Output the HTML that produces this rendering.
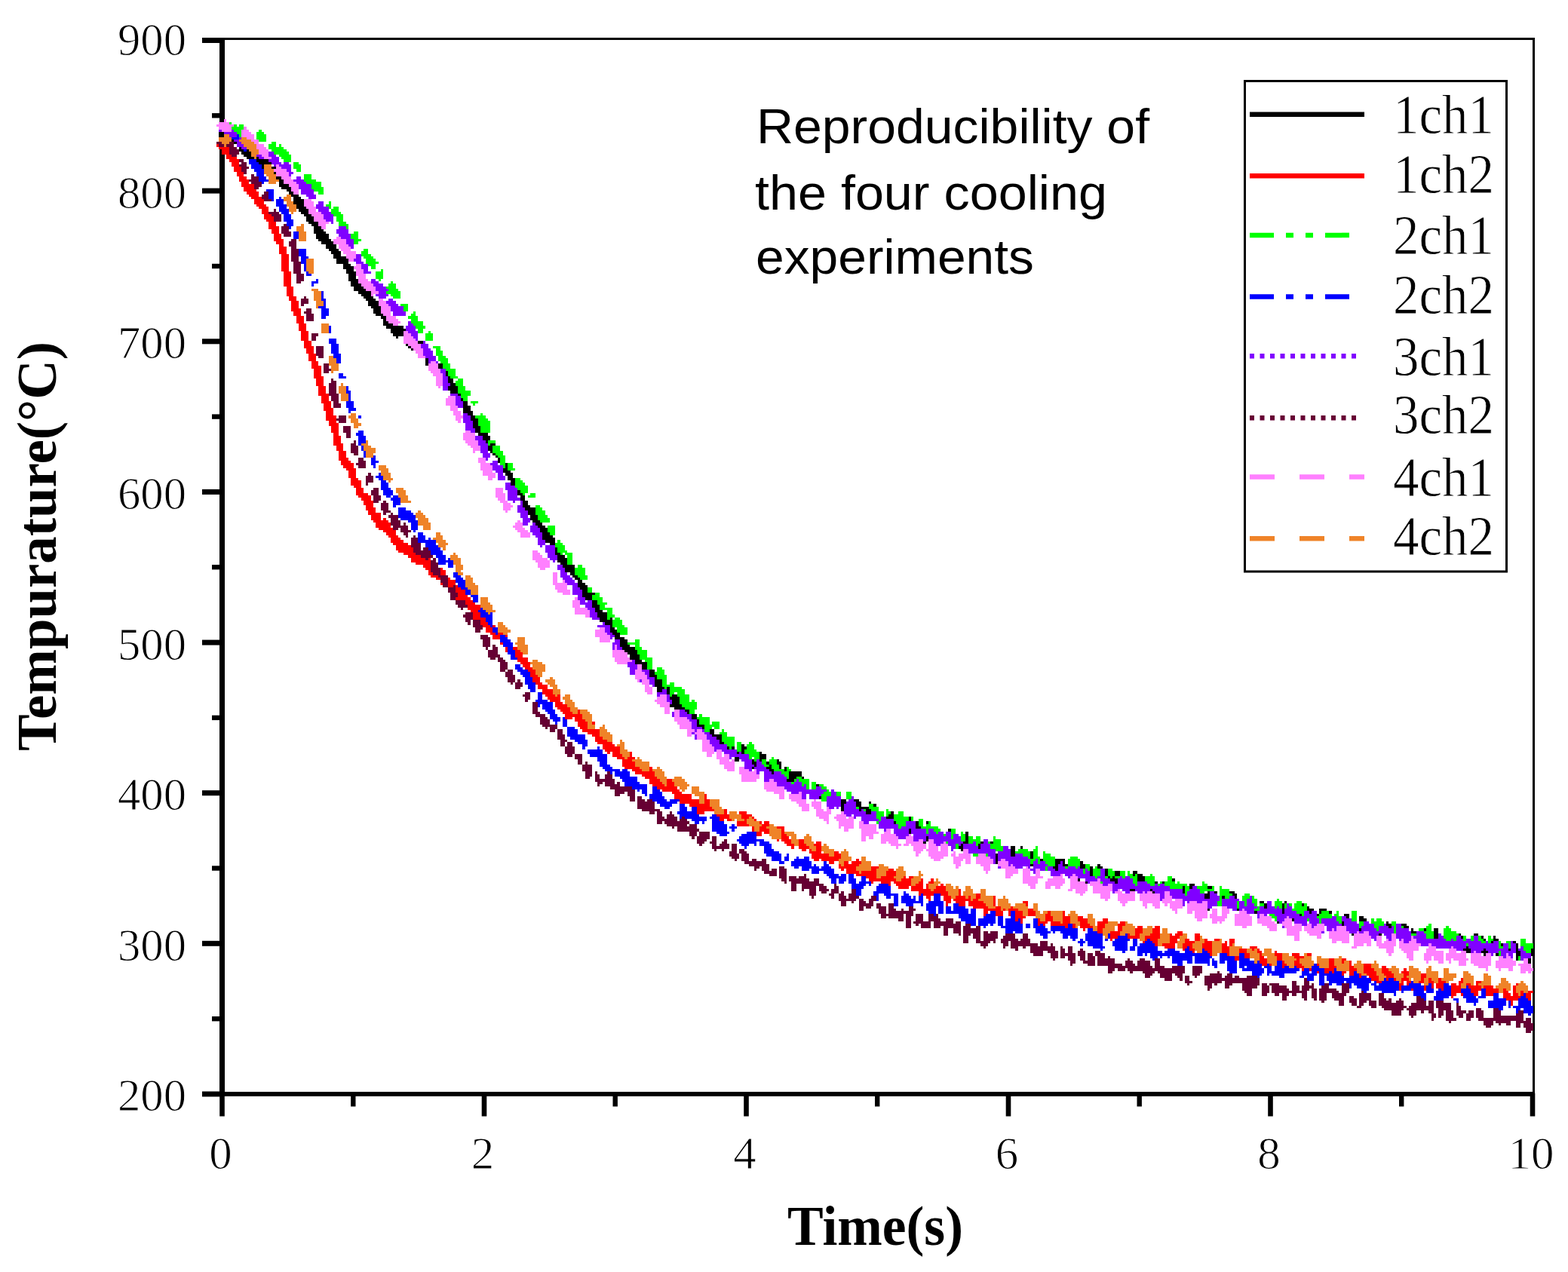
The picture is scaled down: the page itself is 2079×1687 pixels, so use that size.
<!DOCTYPE html>
<html><head><meta charset="utf-8"><title>Reproducibility of the four cooling experiments</title>
<style>html,body{margin:0;padding:0;background:#fff;}svg{display:block;}</style>
</head><body>
<svg width="2079" height="1687" viewBox="0 0 2079 1687">
<rect width="2079" height="1687" fill="#fff"/>
<g fill="#000">
<rect x="291" y="50" width="1744" height="3"/>
<rect x="2032" y="50" width="3" height="1404"/>
<rect x="291" y="50" width="7" height="1404"/>
<rect x="291" y="1448" width="1744" height="6"/>
<rect x="268" y="1447.5" width="24" height="7"/>
<rect x="281" y="1348.0" width="11" height="6.4"/>
<rect x="268" y="1247.8" width="24" height="7"/>
<rect x="281" y="1148.3" width="11" height="6.4"/>
<rect x="268" y="1048.2" width="24" height="7"/>
<rect x="281" y="948.7" width="11" height="6.4"/>
<rect x="268" y="848.6" width="24" height="7"/>
<rect x="281" y="749.0" width="11" height="6.4"/>
<rect x="268" y="648.9" width="24" height="7"/>
<rect x="281" y="549.4" width="11" height="6.4"/>
<rect x="268" y="449.3" width="24" height="7"/>
<rect x="281" y="349.8" width="11" height="6.4"/>
<rect x="268" y="249.6" width="24" height="7"/>
<rect x="281" y="150.1" width="11" height="6.4"/>
<rect x="268" y="50.0" width="24" height="7"/>
<rect x="291.2" y="1450" width="6.6" height="30.5"/>
<rect x="465.1" y="1450" width="6.4" height="17.5"/>
<rect x="638.7" y="1450" width="6.6" height="30.5"/>
<rect x="812.5" y="1450" width="6.4" height="17.5"/>
<rect x="986.2" y="1450" width="6.6" height="30.5"/>
<rect x="1160.0" y="1450" width="6.4" height="17.5"/>
<rect x="1333.7" y="1450" width="6.6" height="30.5"/>
<rect x="1507.5" y="1450" width="6.4" height="17.5"/>
<rect x="1681.2" y="1450" width="6.6" height="30.5"/>
<rect x="1855.0" y="1450" width="6.4" height="17.5"/>
<rect x="2028.7" y="1450" width="6.6" height="30.5"/>
</g>
<g transform="scale(3.300000 3.301370)" shape-rendering="crispEdges">
<path fill="#000000" d="M88 53h2v1h-2zM88 54h2v1h-2zM93 56h1v1h-1zM94 57h1v1h-1zM96 59h1v1h-1zM96 60h2v1h-2zM99 60h1v1h-1zM97 61h4v1h-4zM98 62h3v1h-3zM99 63h3v1h-3zM103 63h1v1h-1zM103 64h5v1h-5zM104 65h5v1h-5zM105 66h1v1h-1zM105 67h1v1h-1zM109 67h2v1h-2zM110 69h1v1h-1zM111 71h2v1h-2zM112 72h2v1h-2zM112 73h2v1h-2zM112 74h4v1h-4zM113 75h4v1h-4zM115 76h2v1h-2zM116 77h2v1h-2zM117 78h3v1h-3zM118 79h3v1h-3zM118 80h4v1h-4zM118 81h4v1h-4zM119 82h3v1h-3zM119 83h4v1h-4zM120 84h4v1h-4zM121 85h3v1h-3zM122 86h3v1h-3zM123 87h3v1h-3zM123 88h3v1h-3zM124 89h4v1h-4zM125 90h3v1h-3zM126 91h3v1h-3zM126 92h4v1h-4zM126 93h5v1h-5zM127 94h5v1h-5zM127 95h5v1h-5zM128 96h5v1h-5zM129 97h5v1h-5zM131 98h4v1h-4zM131 99h4v1h-4zM132 100h4v1h-4zM133 101h4v1h-4zM134 102h3v1h-3zM134 103h5v1h-5zM135 104h5v1h-5zM135 105h5v1h-5zM138 106h3v1h-3zM138 107h4v1h-4zM139 108h3v1h-3zM139 109h4v1h-4zM140 110h3v1h-3zM140 111h3v1h-3zM140 112h4v1h-4zM141 113h3v1h-3zM141 114h4v1h-4zM142 115h4v1h-4zM142 116h5v1h-5zM144 117h5v1h-5zM145 118h4v1h-4zM146 119h4v1h-4zM147 120h4v1h-4zM148 121h4v1h-4zM148 122h4v1h-4zM149 123h4v1h-4zM150 124h3v1h-3zM150 125h3v1h-3zM151 126h3v1h-3zM153 127h2v1h-2zM154 128h1v1h-1zM154 129h2v1h-2zM154 130h4v1h-4zM155 131h7v1h-7zM157 132h6v1h-6zM157 133h5v1h-5zM158 134h4v1h-4zM159 135h1v1h-1zM168 137h2v1h-2zM163 138h1v1h-1zM164 139h1v1h-1zM165 140h1v1h-1zM171 144h1v1h-1zM171 145h1v1h-1zM171 146h1v1h-1zM176 146h2v1h-2zM176 147h2v1h-2zM179 149h1v1h-1zM179 150h1v1h-1zM180 151h1v1h-1zM180 152h2v1h-2zM180 153h2v1h-2zM181 154h2v1h-2zM180 155h4v1h-4zM180 156h4v1h-4zM181 157h3v1h-3zM184 158h1v1h-1zM185 160h1v1h-1zM186 161h2v1h-2zM186 162h2v1h-2zM186 163h3v1h-3zM186 164h3v1h-3zM186 165h4v1h-4zM188 166h2v1h-2zM189 167h2v1h-2zM189 168h3v1h-3zM190 169h2v1h-2zM190 170h2v1h-2zM190 171h3v1h-3zM191 172h2v1h-2zM191 173h2v1h-2zM192 174h4v1h-4zM194 175h3v1h-3zM194 176h3v1h-3zM195 177h1v1h-1zM197 178h2v1h-2zM196 179h2v1h-2zM196 180h2v1h-2zM197 181h1v1h-1zM198 182h1v1h-1zM199 183h1v1h-1zM200 184h1v1h-1zM200 185h1v1h-1zM203 186h1v1h-1zM203 187h1v1h-1zM202 188h2v1h-2zM202 189h3v1h-3zM203 190h3v1h-3zM204 191h2v1h-2zM204 192h3v1h-3zM205 193h2v1h-2zM205 194h2v1h-2zM208 197h1v1h-1zM208 198h2v1h-2zM209 199h2v1h-2zM209 200h2v1h-2zM210 201h2v1h-2zM210 202h2v1h-2zM210 203h3v1h-3zM211 204h4v1h-4zM212 205h3v1h-3zM212 206h3v1h-3zM213 207h3v1h-3zM213 208h3v1h-3zM214 209h3v1h-3zM215 210h3v1h-3zM216 211h3v1h-3zM217 212h3v1h-3zM217 213h3v1h-3zM218 214h3v1h-3zM218 215h4v1h-4zM218 216h5v1h-5zM219 217h4v1h-4zM221 218h2v1h-2zM223 220h1v1h-1zM223 221h1v1h-1zM223 222h2v1h-2zM224 223h3v1h-3zM224 224h4v1h-4zM224 225h4v1h-4zM225 226h3v1h-3zM226 227h5v1h-5zM227 228h4v1h-4zM227 229h4v1h-4zM229 230h2v1h-2zM230 231h2v1h-2zM231 232h2v1h-2zM232 233h2v1h-2zM232 234h3v1h-3zM232 235h4v1h-4zM233 236h3v1h-3zM234 237h2v1h-2zM234 238h5v1h-5zM234 239h4v1h-4zM235 240h3v1h-3zM238 241h2v1h-2zM238 242h2v1h-2zM238 243h3v1h-3zM239 244h2v1h-2zM239 245h3v1h-3zM240 246h4v1h-4zM240 247h4v1h-4zM241 248h3v1h-3zM245 248h1v1h-1zM241 249h5v1h-5zM243 250h3v1h-3zM245 251h1v1h-1zM245 252h2v1h-2zM245 253h3v1h-3zM246 254h3v1h-3zM247 255h2v1h-2zM247 256h4v1h-4zM249 257h3v1h-3zM249 258h3v1h-3zM249 259h4v1h-4zM250 260h5v1h-5zM251 261h5v1h-5zM252 262h4v1h-4zM253 263h4v1h-4zM253 264h4v1h-4zM255 265h3v1h-3zM255 266h5v1h-5zM258 267h2v1h-2zM258 268h2v1h-2zM261 269h2v1h-2zM261 270h2v1h-2zM261 271h3v1h-3zM263 272h1v1h-1zM263 273h3v1h-3zM263 274h3v1h-3zM263 275h3v1h-3zM264 276h3v1h-3zM268 276h1v1h-1zM264 277h2v1h-2zM268 277h1v1h-1zM268 278h1v1h-1zM270 279h2v1h-2zM269 280h4v1h-4zM270 281h3v1h-3zM270 282h3v1h-3zM269 283h5v1h-5zM271 284h4v1h-4zM275 285h2v1h-2zM276 286h1v1h-1zM278 287h2v1h-2zM278 288h2v1h-2zM280 289h1v1h-1zM280 290h1v1h-1zM280 291h3v1h-3zM282 292h1v1h-1zM285 293h2v1h-2zM285 294h2v1h-2zM286 295h4v1h-4zM288 296h2v1h-2zM289 297h1v1h-1zM289 298h2v1h-2zM298 299h1v1h-1zM292 300h1v1h-1zM294 300h1v1h-1zM298 300h2v1h-2zM298 301h1v1h-1zM296 302h1v1h-1zM298 302h1v1h-1zM305 302h1v1h-1zM305 303h3v1h-3zM295 304h2v1h-2zM305 304h3v1h-3zM295 305h2v1h-2zM302 305h1v1h-1zM305 305h1v1h-1zM312 305h1v1h-1zM302 306h2v1h-2zM308 306h1v1h-1zM312 306h2v1h-2zM303 307h1v1h-1zM309 307h1v1h-1zM313 307h1v1h-1zM302 308h1v1h-1zM308 308h2v1h-2zM313 308h1v1h-1zM315 308h1v1h-1zM309 309h2v1h-2zM315 309h1v1h-1zM310 310h1v1h-1zM317 310h5v1h-5zM317 311h5v1h-5zM317 312h3v1h-3zM322 312h1v1h-1zM316 313h3v1h-3zM328 315h1v1h-1zM329 320h1v1h-1zM338 321h2v1h-2zM343 321h2v1h-2zM338 322h2v1h-2zM344 322h2v1h-2zM349 322h1v1h-1zM338 323h1v1h-1zM344 323h2v1h-2zM351 323h1v1h-1zM338 324h1v1h-1zM345 324h4v1h-4zM338 325h1v1h-1zM345 325h1v1h-1zM348 325h2v1h-2zM348 326h2v1h-2zM358 326h1v1h-1zM357 327h2v1h-2zM356 328h3v1h-3zM365 328h1v1h-1zM365 329h1v1h-1zM359 330h1v1h-1zM368 330h1v1h-1zM372 330h1v1h-1zM368 331h1v1h-1zM368 332h2v1h-2zM365 333h1v1h-1zM381 333h1v1h-1zM365 334h1v1h-1zM388 334h1v1h-1zM388 335h1v1h-1zM372 336h1v1h-1zM388 336h1v1h-1zM372 337h1v1h-1zM388 337h1v1h-1zM371 338h1v1h-1zM387 338h2v1h-2zM394 338h1v1h-1zM398 338h1v1h-1zM386 339h1v1h-1zM393 339h1v1h-1zM385 340h2v1h-2zM393 340h1v1h-1zM406 340h2v1h-2zM410 340h1v1h-1zM386 341h1v1h-1zM406 341h2v1h-2zM406 342h2v1h-2zM414 342h1v1h-1zM400 343h1v1h-1zM406 343h2v1h-2zM414 343h1v1h-1zM400 344h1v1h-1zM414 344h1v1h-1zM400 345h1v1h-1zM418 345h1v1h-1zM424 345h4v1h-4zM400 346h1v1h-1zM424 346h2v1h-2zM427 346h1v1h-1zM434 346h1v1h-1zM414 347h1v1h-1zM424 347h1v1h-1zM427 347h2v1h-2zM434 347h2v1h-2zM441 347h1v1h-1zM423 348h2v1h-2zM434 348h2v1h-2zM438 348h1v1h-1zM441 348h2v1h-2zM424 349h1v1h-1zM438 349h1v1h-1zM444 349h1v1h-1zM438 350h1v1h-1zM444 350h1v1h-1zM448 350h2v1h-2zM455 350h2v1h-2zM438 351h1v1h-1zM444 351h1v1h-1zM448 351h2v1h-2zM455 351h1v1h-1zM457 351h2v1h-2zM445 352h1v1h-1zM447 352h1v1h-1zM457 352h3v1h-3zM433 353h1v1h-1zM446 353h3v1h-3zM457 353h3v1h-3zM471 353h1v1h-1zM436 354h1v1h-1zM448 354h1v1h-1zM464 354h1v1h-1zM467 354h1v1h-1zM478 355h2v1h-2zM475 356h1v1h-1zM478 356h1v1h-1zM485 356h2v1h-2zM454 357h2v1h-2zM462 357h1v1h-1zM475 357h1v1h-1zM463 358h1v1h-1zM475 358h1v1h-1zM485 358h1v1h-1zM488 358h1v1h-1zM494 358h2v1h-2zM484 359h2v1h-2zM495 359h2v1h-2zM484 360h2v1h-2zM491 360h1v1h-1zM496 360h1v1h-1zM506 362h2v1h-2zM516 362h1v1h-1zM508 363h1v1h-1zM515 363h1v1h-1zM523 363h1v1h-1zM508 364h1v1h-1zM515 364h1v1h-1zM525 364h1v1h-1zM485 365h1v1h-1zM497 365h1v1h-1zM515 365h1v1h-1zM525 365h3v1h-3zM530 365h3v1h-3zM504 366h1v1h-1zM515 366h1v1h-1zM526 366h1v1h-1zM530 366h1v1h-1zM534 366h1v1h-1zM522 367h1v1h-1zM529 367h1v1h-1zM540 367h2v1h-2zM541 368h1v1h-1zM546 368h2v1h-2zM519 369h1v1h-1zM546 369h3v1h-3zM513 370h1v1h-1zM539 370h1v1h-1zM557 370h1v1h-1zM539 371h1v1h-1zM557 371h2v1h-2zM563 371h2v1h-2zM558 372h1v1h-1zM564 372h2v1h-2zM546 373h1v1h-1zM567 373h1v1h-1zM572 373h1v1h-1zM576 373h2v1h-2zM567 374h2v1h-2zM576 374h2v1h-2zM543 375h1v1h-1zM554 375h1v1h-1zM576 375h2v1h-2zM586 375h1v1h-1zM592 375h2v1h-2zM576 376h2v1h-2zM587 376h1v1h-1zM595 376h1v1h-1zM600 376h1v1h-1zM596 377h1v1h-1zM600 377h2v1h-2zM599 378h1v1h-1zM608 378h1v1h-1zM603 379h1v1h-1zM609 379h1v1h-1zM589 380h1v1h-1zM609 380h1v1h-1zM588 381h3v1h-3zM596 381h1v1h-1zM606 381h1v1h-1zM609 381h1v1h-1zM615 381h1v1h-1zM589 382h2v1h-2zM595 382h3v1h-3zM609 382h2v1h-2zM615 382h1v1h-1zM596 383h1v1h-1zM601 383h1v1h-1zM609 383h2v1h-2zM615 383h1v1h-1zM609 384h1v1h-1zM609 385h1v1h-1zM614 385h1v1h-1zM614 386h1v1h-1z"/>
<path fill="#ff0000" d="M87 58h1v1h-1zM88 59h4v1h-4zM89 60h3v1h-3zM89 61h3v1h-3zM91 62h2v1h-2zM91 63h4v1h-4zM92 64h4v1h-4zM93 65h3v1h-3zM93 66h3v1h-3zM94 67h3v1h-3zM94 68h3v1h-3zM95 69h3v1h-3zM95 70h3v1h-3zM96 71h3v1h-3zM96 72h4v1h-4zM97 73h3v1h-3zM97 74h5v1h-5zM98 75h4v1h-4zM98 76h5v1h-5zM99 77h5v1h-5zM100 78h4v1h-4zM101 79h4v1h-4zM102 80h4v1h-4zM102 81h4v1h-4zM103 82h4v1h-4zM104 83h4v1h-4zM105 84h3v1h-3zM105 85h3v1h-3zM106 86h3v1h-3zM106 87h4v1h-4zM107 88h3v1h-3zM108 89h3v1h-3zM108 90h3v1h-3zM108 91h4v1h-4zM109 92h3v1h-3zM109 93h3v1h-3zM110 94h3v1h-3zM110 95h3v1h-3zM110 96h4v1h-4zM111 97h3v1h-3zM112 98h2v1h-2zM112 99h3v1h-3zM112 100h3v1h-3zM112 101h3v1h-3zM113 102h3v1h-3zM113 103h3v1h-3zM113 104h3v1h-3zM113 105h3v1h-3zM113 106h3v1h-3zM113 107h3v1h-3zM113 108h3v1h-3zM114 109h3v1h-3zM114 110h3v1h-3zM114 111h3v1h-3zM114 112h3v1h-3zM114 113h3v1h-3zM114 114h3v1h-3zM115 115h3v1h-3zM115 116h3v1h-3zM115 117h3v1h-3zM115 118h3v1h-3zM116 119h3v1h-3zM116 120h3v1h-3zM117 121h3v1h-3zM117 122h3v1h-3zM117 123h3v1h-3zM117 124h4v1h-4zM118 125h3v1h-3zM118 126h3v1h-3zM119 127h3v1h-3zM119 128h3v1h-3zM119 129h3v1h-3zM120 130h3v1h-3zM120 131h3v1h-3zM120 132h3v1h-3zM121 133h3v1h-3zM121 134h3v1h-3zM121 135h3v1h-3zM121 136h3v1h-3zM122 137h3v1h-3zM122 138h3v1h-3zM122 139h4v1h-4zM123 140h3v1h-3zM123 141h3v1h-3zM124 142h3v1h-3zM124 143h3v1h-3zM124 144h3v1h-3zM125 145h3v1h-3zM125 146h3v1h-3zM125 147h4v1h-4zM126 148h3v1h-3zM126 149h3v1h-3zM126 150h3v1h-3zM126 151h4v1h-4zM127 152h3v1h-3zM127 153h3v1h-3zM127 154h3v1h-3zM128 155h3v1h-3zM128 156h3v1h-3zM128 157h3v1h-3zM128 158h4v1h-4zM129 159h3v1h-3zM129 160h3v1h-3zM129 161h4v1h-4zM130 162h3v1h-3zM130 163h3v1h-3zM130 164h4v1h-4zM131 165h3v1h-3zM131 166h3v1h-3zM131 167h4v1h-4zM131 168h4v1h-4zM132 169h3v1h-3zM132 170h4v1h-4zM133 171h3v1h-3zM133 172h3v1h-3zM133 173h3v1h-3zM134 174h2v1h-2zM134 175h3v1h-3zM134 176h3v1h-3zM134 177h3v1h-3zM134 178h4v1h-4zM135 179h3v1h-3zM135 180h3v1h-3zM136 181h3v1h-3zM136 182h3v1h-3zM136 183h3v1h-3zM136 184h4v1h-4zM137 185h4v1h-4zM137 186h5v1h-5zM138 187h4v1h-4zM139 188h4v1h-4zM140 189h3v1h-3zM140 190h3v1h-3zM140 191h3v1h-3zM141 192h3v1h-3zM141 193h4v1h-4zM141 194h4v1h-4zM142 195h3v1h-3zM143 196h3v1h-3zM143 197h3v1h-3zM143 198h5v1h-5zM144 199h5v1h-5zM145 200h4v1h-4zM146 201h4v1h-4zM146 202h4v1h-4zM147 203h3v1h-3zM147 204h4v1h-4zM148 205h3v1h-3zM148 206h5v1h-5zM149 207h4v1h-4zM149 208h4v1h-4zM154 208h1v1h-1zM150 209h6v1h-6zM151 210h6v1h-6zM151 211h6v1h-6zM152 212h6v1h-6zM154 213h5v1h-5zM155 214h4v1h-4zM156 215h4v1h-4zM157 216h4v1h-4zM157 217h5v1h-5zM158 218h6v1h-6zM159 219h6v1h-6zM159 220h7v1h-7zM160 221h6v1h-6zM162 222h5v1h-5zM164 223h5v1h-5zM165 224h6v1h-6zM172 224h1v1h-1zM165 225h8v1h-8zM167 226h6v1h-6zM170 227h3v1h-3zM171 228h2v1h-2zM177 228h1v1h-1zM172 229h1v1h-1zM177 229h2v1h-2zM172 230h2v1h-2zM177 230h2v1h-2zM173 231h3v1h-3zM175 232h2v1h-2zM180 232h1v1h-1zM180 233h3v1h-3zM177 234h1v1h-1zM180 234h3v1h-3zM180 235h2v1h-2zM183 235h1v1h-1zM183 236h2v1h-2zM183 237h4v1h-4zM184 238h3v1h-3zM184 239h4v1h-4zM183 240h6v1h-6zM187 241h3v1h-3zM187 242h4v1h-4zM188 243h5v1h-5zM188 244h5v1h-5zM189 245h3v1h-3zM190 246h3v1h-3zM190 247h3v1h-3zM190 248h5v1h-5zM193 249h2v1h-2zM193 250h3v1h-3zM194 251h3v1h-3zM198 251h1v1h-1zM195 252h3v1h-3zM195 253h3v1h-3zM197 254h2v1h-2zM200 254h2v1h-2zM198 255h3v1h-3zM203 255h1v1h-1zM198 256h3v1h-3zM201 258h1v1h-1zM203 260h1v1h-1zM206 260h2v1h-2zM203 261h1v1h-1zM207 261h2v1h-2zM207 262h3v1h-3zM207 263h3v1h-3zM208 264h4v1h-4zM208 265h4v1h-4zM209 266h4v1h-4zM210 267h3v1h-3zM211 268h3v1h-3zM212 269h3v1h-3zM213 270h2v1h-2zM213 271h3v1h-3zM214 272h3v1h-3zM214 273h3v1h-3zM215 274h3v1h-3zM216 275h4v1h-4zM216 276h4v1h-4zM218 277h4v1h-4zM218 278h4v1h-4zM219 279h4v1h-4zM224 279h1v1h-1zM220 280h5v1h-5zM221 281h4v1h-4zM223 282h3v1h-3zM223 283h5v1h-5zM224 284h5v1h-5zM225 285h4v1h-4zM232 285h1v1h-1zM226 286h4v1h-4zM232 286h1v1h-1zM227 287h7v1h-7zM227 288h3v1h-3zM231 288h3v1h-3zM231 289h4v1h-4zM232 290h4v1h-4zM238 290h1v1h-1zM232 291h4v1h-4zM233 292h3v1h-3zM234 293h7v1h-7zM236 294h5v1h-5zM238 295h3v1h-3zM239 296h3v1h-3zM239 297h5v1h-5zM240 298h6v1h-6zM242 299h5v1h-5zM242 300h7v1h-7zM243 301h6v1h-6zM244 302h1v1h-1zM246 302h3v1h-3zM253 302h1v1h-1zM246 303h4v1h-4zM253 303h1v1h-1zM248 304h3v1h-3zM252 304h3v1h-3zM250 305h4v1h-4zM250 306h5v1h-5zM250 307h5v1h-5zM251 308h6v1h-6zM261 308h1v1h-1zM254 309h4v1h-4zM261 309h1v1h-1zM255 310h8v1h-8zM258 311h5v1h-5zM259 312h5v1h-5zM261 313h4v1h-4zM268 313h2v1h-2zM261 314h5v1h-5zM268 314h3v1h-3zM262 315h5v1h-5zM268 315h3v1h-3zM264 316h8v1h-8zM266 317h7v1h-7zM270 318h4v1h-4zM271 319h7v1h-7zM283 319h1v1h-1zM271 320h7v1h-7zM283 320h1v1h-1zM273 321h8v1h-8zM283 321h2v1h-2zM273 322h8v1h-8zM283 322h2v1h-2zM277 323h8v1h-8zM280 324h6v1h-6zM280 325h7v1h-7zM291 325h1v1h-1zM280 326h3v1h-3zM291 326h1v1h-1zM297 326h3v1h-3zM288 327h5v1h-5zM298 327h4v1h-4zM289 328h4v1h-4zM298 328h3v1h-3zM302 328h1v1h-1zM289 329h2v1h-2zM292 329h2v1h-2zM299 329h1v1h-1zM303 329h1v1h-1zM296 330h4v1h-4zM305 330h1v1h-1zM307 330h2v1h-2zM296 331h5v1h-5zM306 331h3v1h-3zM302 332h1v1h-1zM305 332h3v1h-3zM312 332h3v1h-3zM302 333h1v1h-1zM305 333h4v1h-4zM314 333h1v1h-1zM304 334h2v1h-2zM307 334h2v1h-2zM314 334h1v1h-1zM304 335h2v1h-2zM314 335h2v1h-2zM314 336h3v1h-3zM312 337h1v1h-1zM314 337h4v1h-4zM321 337h2v1h-2zM315 338h3v1h-3zM321 338h2v1h-2zM328 338h2v1h-2zM316 339h3v1h-3zM321 339h3v1h-3zM327 339h3v1h-3zM318 340h1v1h-1zM321 340h4v1h-4zM328 340h2v1h-2zM322 341h2v1h-2zM325 341h1v1h-1zM328 341h2v1h-2zM325 342h5v1h-5zM335 342h2v1h-2zM326 343h7v1h-7zM335 343h3v1h-3zM326 344h12v1h-12zM327 345h2v1h-2zM330 345h7v1h-7zM344 345h1v1h-1zM333 346h2v1h-2zM339 346h2v1h-2zM342 346h4v1h-4zM337 347h1v1h-1zM339 347h6v1h-6zM337 348h7v1h-7zM350 348h3v1h-3zM338 349h1v1h-1zM340 349h4v1h-4zM350 349h2v1h-2zM357 349h2v1h-2zM340 350h5v1h-5zM346 350h6v1h-6zM356 350h4v1h-4zM344 351h8v1h-8zM356 351h4v1h-4zM348 352h4v1h-4zM354 352h5v1h-5zM363 352h1v1h-1zM365 352h2v1h-2zM349 353h11v1h-11zM362 353h4v1h-4zM370 353h1v1h-1zM374 353h1v1h-1zM350 354h1v1h-1zM354 354h4v1h-4zM359 354h7v1h-7zM369 354h2v1h-2zM373 354h2v1h-2zM357 355h1v1h-1zM360 355h6v1h-6zM368 355h3v1h-3zM372 355h1v1h-1zM378 355h1v1h-1zM361 356h4v1h-4zM366 356h5v1h-5zM372 356h1v1h-1zM376 356h4v1h-4zM366 357h8v1h-8zM375 357h5v1h-5zM385 357h1v1h-1zM369 358h12v1h-12zM385 358h1v1h-1zM369 359h1v1h-1zM371 359h4v1h-4zM378 359h3v1h-3zM385 359h1v1h-1zM392 359h2v1h-2zM372 360h2v1h-2zM379 360h3v1h-3zM384 360h4v1h-4zM389 360h1v1h-1zM392 360h2v1h-2zM399 360h1v1h-1zM373 361h1v1h-1zM379 361h3v1h-3zM383 361h7v1h-7zM391 361h2v1h-2zM399 361h1v1h-1zM380 362h2v1h-2zM384 362h4v1h-4zM389 362h6v1h-6zM399 362h1v1h-1zM411 362h2v1h-2zM380 363h1v1h-1zM385 363h3v1h-3zM389 363h7v1h-7zM399 363h1v1h-1zM412 363h1v1h-1zM391 364h6v1h-6zM400 364h2v1h-2zM406 364h1v1h-1zM395 365h7v1h-7zM403 365h1v1h-1zM405 365h4v1h-4zM413 365h2v1h-2zM395 366h2v1h-2zM400 366h3v1h-3zM405 366h1v1h-1zM408 366h3v1h-3zM413 366h3v1h-3zM421 366h1v1h-1zM427 366h1v1h-1zM395 367h1v1h-1zM400 367h3v1h-3zM405 367h1v1h-1zM408 367h3v1h-3zM413 367h3v1h-3zM420 367h2v1h-2zM427 367h1v1h-1zM408 368h4v1h-4zM420 368h3v1h-3zM427 368h3v1h-3zM433 368h2v1h-2zM408 369h1v1h-1zM410 369h1v1h-1zM417 369h1v1h-1zM420 369h3v1h-3zM427 369h3v1h-3zM433 369h4v1h-4zM443 369h2v1h-2zM410 370h1v1h-1zM417 370h4v1h-4zM422 370h4v1h-4zM427 370h3v1h-3zM434 370h3v1h-3zM441 370h4v1h-4zM450 370h2v1h-2zM417 371h1v1h-1zM419 371h1v1h-1zM422 371h7v1h-7zM431 371h1v1h-1zM434 371h4v1h-4zM441 371h3v1h-3zM449 371h3v1h-3zM428 372h1v1h-1zM431 372h1v1h-1zM434 372h5v1h-5zM441 372h3v1h-3zM449 372h2v1h-2zM457 372h2v1h-2zM464 372h2v1h-2zM435 373h1v1h-1zM441 373h2v1h-2zM449 373h2v1h-2zM456 373h3v1h-3zM463 373h3v1h-3zM441 374h2v1h-2zM446 374h4v1h-4zM456 374h3v1h-3zM463 374h3v1h-3zM473 374h2v1h-2zM446 375h4v1h-4zM453 375h1v1h-1zM456 375h2v1h-2zM462 375h4v1h-4zM470 375h1v1h-1zM472 375h3v1h-3zM480 375h2v1h-2zM446 376h3v1h-3zM453 376h5v1h-5zM460 376h6v1h-6zM470 376h4v1h-4zM480 376h2v1h-2zM446 377h1v1h-1zM460 377h1v1h-1zM462 377h3v1h-3zM470 377h3v1h-3zM476 377h2v1h-2zM480 377h2v1h-2zM484 377h1v1h-1zM488 377h2v1h-2zM494 377h2v1h-2zM459 378h1v1h-1zM463 378h2v1h-2zM470 378h3v1h-3zM476 378h4v1h-4zM484 378h3v1h-3zM492 378h1v1h-1zM494 378h2v1h-2zM464 379h1v1h-1zM467 379h5v1h-5zM475 379h4v1h-4zM483 379h4v1h-4zM491 379h2v1h-2zM494 379h1v1h-1zM468 380h4v1h-4zM475 380h2v1h-2zM478 380h1v1h-1zM483 380h4v1h-4zM491 380h3v1h-3zM502 380h3v1h-3zM475 381h1v1h-1zM478 381h2v1h-2zM484 381h3v1h-3zM491 381h3v1h-3zM498 381h3v1h-3zM503 381h1v1h-1zM505 381h1v1h-1zM479 382h1v1h-1zM485 382h2v1h-2zM491 382h3v1h-3zM498 382h3v1h-3zM505 382h2v1h-2zM512 382h1v1h-1zM486 383h1v1h-1zM493 383h1v1h-1zM500 383h2v1h-2zM506 383h1v1h-1zM512 383h3v1h-3zM519 383h3v1h-3zM525 383h2v1h-2zM496 384h2v1h-2zM500 384h2v1h-2zM506 384h2v1h-2zM513 384h2v1h-2zM520 384h4v1h-4zM496 385h2v1h-2zM506 385h3v1h-3zM513 385h2v1h-2zM521 385h1v1h-1zM534 385h2v1h-2zM539 385h2v1h-2zM506 386h3v1h-3zM515 386h1v1h-1zM520 386h2v1h-2zM534 386h2v1h-2zM539 386h1v1h-1zM542 386h1v1h-1zM507 387h2v1h-2zM510 387h1v1h-1zM515 387h2v1h-2zM520 387h3v1h-3zM529 387h1v1h-1zM534 387h2v1h-2zM542 387h1v1h-1zM548 387h3v1h-3zM515 388h1v1h-1zM521 388h3v1h-3zM534 388h3v1h-3zM542 388h2v1h-2zM548 388h3v1h-3zM555 388h2v1h-2zM523 389h1v1h-1zM526 389h1v1h-1zM532 389h4v1h-4zM542 389h3v1h-3zM548 389h4v1h-4zM555 389h3v1h-3zM564 389h1v1h-1zM529 390h1v1h-1zM532 390h2v1h-2zM535 390h1v1h-1zM539 390h2v1h-2zM542 390h2v1h-2zM548 390h5v1h-5zM555 390h4v1h-4zM563 390h3v1h-3zM539 391h1v1h-1zM542 391h2v1h-2zM546 391h1v1h-1zM549 391h4v1h-4zM556 391h4v1h-4zM564 391h2v1h-2zM571 391h2v1h-2zM546 392h1v1h-1zM550 392h4v1h-4zM557 392h3v1h-3zM564 392h1v1h-1zM571 392h2v1h-2zM551 393h3v1h-3zM557 393h1v1h-1zM560 393h1v1h-1zM563 393h3v1h-3zM571 393h1v1h-1zM574 393h1v1h-1zM578 393h1v1h-1zM587 393h1v1h-1zM553 394h2v1h-2zM563 394h1v1h-1zM565 394h2v1h-2zM570 394h2v1h-2zM574 394h2v1h-2zM578 394h3v1h-3zM586 394h2v1h-2zM593 394h2v1h-2zM562 395h2v1h-2zM565 395h1v1h-1zM575 395h1v1h-1zM577 395h3v1h-3zM583 395h2v1h-2zM586 395h1v1h-1zM589 395h2v1h-2zM593 395h1v1h-1zM609 395h1v1h-1zM562 396h1v1h-1zM572 396h1v1h-1zM575 396h1v1h-1zM577 396h3v1h-3zM583 396h4v1h-4zM590 396h5v1h-5zM596 396h4v1h-4zM608 396h1v1h-1zM562 397h1v1h-1zM567 397h1v1h-1zM572 397h1v1h-1zM579 397h1v1h-1zM583 397h4v1h-4zM591 397h4v1h-4zM597 397h5v1h-5zM604 397h1v1h-1zM608 397h1v1h-1zM583 398h4v1h-4zM591 398h3v1h-3zM597 398h5v1h-5zM604 398h2v1h-2zM608 398h1v1h-1zM611 398h1v1h-1zM614 398h2v1h-2zM583 399h2v1h-2zM587 399h1v1h-1zM592 399h2v1h-2zM597 399h3v1h-3zM604 399h3v1h-3zM608 399h2v1h-2zM611 399h1v1h-1zM613 399h2v1h-2zM583 400h1v1h-1zM604 400h7v1h-7zM613 400h2v1h-2zM605 401h5v1h-5zM614 401h1v1h-1zM607 402h1v1h-1zM607 403h1v1h-1z"/>
<path fill="#00ff00" d="M92 49h1v1h-1zM94 50h1v1h-1zM96 50h2v1h-2zM93 51h5v1h-5zM94 52h3v1h-3zM104 52h1v1h-1zM95 53h2v1h-2zM103 53h3v1h-3zM96 54h1v1h-1zM103 54h4v1h-4zM103 55h4v1h-4zM104 56h3v1h-3zM109 57h2v1h-2zM108 58h3v1h-3zM112 58h1v1h-1zM108 59h6v1h-6zM109 60h6v1h-6zM110 61h6v1h-6zM112 62h5v1h-5zM113 63h4v1h-4zM114 64h3v1h-3zM118 65h2v1h-2zM118 66h3v1h-3zM118 67h3v1h-3zM119 68h2v1h-2zM122 70h3v1h-3zM122 71h3v1h-3zM122 72h5v1h-5zM123 73h6v1h-6zM125 74h4v1h-4zM125 75h5v1h-5zM126 76h4v1h-4zM128 77h2v1h-2zM132 81h1v1h-1zM131 82h2v1h-2zM132 83h1v1h-1zM134 83h2v1h-2zM133 84h3v1h-3zM133 85h4v1h-4zM134 86h4v1h-4zM135 87h3v1h-3zM135 88h3v1h-3zM136 89h3v1h-3zM136 90h4v1h-4zM139 91h1v1h-1zM142 93h2v1h-2zM141 94h3v1h-3zM141 95h3v1h-3zM142 96h3v1h-3zM142 97h2v1h-2zM146 100h2v1h-2zM145 101h3v1h-3zM145 102h4v1h-4zM146 103h4v1h-4zM147 104h4v1h-4zM147 105h5v1h-5zM148 106h3v1h-3zM149 107h2v1h-2zM153 108h1v1h-1zM151 109h3v1h-3zM151 110h3v1h-3zM151 111h3v1h-3zM152 112h1v1h-1zM157 113h1v1h-1zM156 114h3v1h-3zM155 115h4v1h-4zM156 116h4v1h-4zM155 117h6v1h-6zM157 118h4v1h-4zM158 119h3v1h-3zM161 122h3v1h-3zM162 123h2v1h-2zM162 124h2v1h-2zM166 125h1v1h-1zM165 126h2v1h-2zM164 127h4v1h-4zM165 128h3v1h-3zM165 129h5v1h-5zM166 130h4v1h-4zM167 131h4v1h-4zM168 132h2v1h-2zM168 133h2v1h-2zM172 133h1v1h-1zM171 134h3v1h-3zM171 135h3v1h-3zM171 136h3v1h-3zM174 139h3v1h-3zM175 140h2v1h-2zM175 141h3v1h-3zM175 142h3v1h-3zM176 143h3v1h-3zM176 144h4v1h-4zM177 145h3v1h-3zM178 146h3v1h-3zM178 147h3v1h-3zM179 148h4v1h-4zM180 149h3v1h-3zM180 150h3v1h-3zM181 151h3v1h-3zM184 152h2v1h-2zM183 153h3v1h-3zM183 154h3v1h-3zM184 155h3v1h-3zM184 156h3v1h-3zM184 157h5v1h-5zM185 158h4v1h-4zM185 159h3v1h-3zM186 160h2v1h-2zM189 161h3v1h-3zM190 162h1v1h-1zM193 166h1v1h-1zM191 167h4v1h-4zM192 168h4v1h-4zM192 169h5v1h-5zM192 170h5v1h-5zM193 171h4v1h-4zM193 172h4v1h-4zM193 173h4v1h-4zM196 177h3v1h-3zM196 178h1v1h-1zM198 179h3v1h-3zM198 180h3v1h-3zM198 181h4v1h-4zM199 182h3v1h-3zM200 183h3v1h-3zM201 184h2v1h-2zM201 185h2v1h-2zM201 186h2v1h-2zM204 186h2v1h-2zM202 187h1v1h-1zM204 187h2v1h-2zM204 188h3v1h-3zM207 192h2v1h-2zM207 193h3v1h-3zM207 194h4v1h-4zM207 195h5v1h-5zM208 196h4v1h-4zM209 197h3v1h-3zM210 198h1v1h-1zM213 198h2v1h-2zM212 199h3v1h-3zM215 203h2v1h-2zM215 204h3v1h-3zM215 205h4v1h-4zM215 206h4v1h-4zM216 207h4v1h-4zM216 208h5v1h-5zM217 209h4v1h-4zM220 211h3v1h-3zM220 212h3v1h-3zM220 213h3v1h-3zM221 214h2v1h-2zM224 217h1v1h-1zM223 218h3v1h-3zM223 219h4v1h-4zM224 220h3v1h-3zM224 221h4v1h-4zM225 222h1v1h-1zM227 222h3v1h-3zM228 223h2v1h-2zM228 224h2v1h-2zM228 225h2v1h-2zM228 226h2v1h-2zM232 227h2v1h-2zM231 228h4v1h-4zM231 229h4v1h-4zM231 230h4v1h-4zM232 231h4v1h-4zM233 232h3v1h-3zM236 236h2v1h-2zM236 237h2v1h-2zM239 238h2v1h-2zM238 239h3v1h-3zM238 240h4v1h-4zM240 241h2v1h-2zM240 242h4v1h-4zM241 243h2v1h-2zM241 244h5v1h-5zM244 245h2v1h-2zM244 246h2v1h-2zM244 247h3v1h-3zM244 248h1v1h-1zM247 248h2v1h-2zM246 249h4v1h-4zM246 250h4v1h-4zM246 251h5v1h-5zM248 252h4v1h-4zM248 253h4v1h-4zM249 254h3v1h-3zM255 257h2v1h-2zM252 258h5v1h-5zM255 259h2v1h-2zM255 260h3v1h-3zM256 261h4v1h-4zM256 262h4v1h-4zM257 263h3v1h-3zM257 264h5v1h-5zM259 265h3v1h-3zM260 266h2v1h-2zM260 267h2v1h-2zM260 268h2v1h-2zM264 268h2v1h-2zM264 269h3v1h-3zM263 270h4v1h-4zM264 271h4v1h-4zM264 272h4v1h-4zM266 273h2v1h-2zM266 274h2v1h-2zM269 274h2v1h-2zM266 275h5v1h-5zM267 276h1v1h-1zM269 276h5v1h-5zM269 277h6v1h-6zM269 278h2v1h-2zM272 278h3v1h-3zM269 279h1v1h-1zM272 279h5v1h-5zM273 280h4v1h-4zM273 281h4v1h-4zM278 281h1v1h-1zM273 282h7v1h-7zM274 283h6v1h-6zM275 284h5v1h-5zM277 285h2v1h-2zM277 286h2v1h-2zM281 287h1v1h-1zM280 288h5v1h-5zM281 289h4v1h-4zM281 290h4v1h-4zM286 290h3v1h-3zM283 291h6v1h-6zM283 292h3v1h-3zM287 292h2v1h-2zM283 293h2v1h-2zM290 293h1v1h-1zM289 294h3v1h-3zM290 295h2v1h-2zM290 296h5v1h-5zM290 297h5v1h-5zM291 298h4v1h-4zM296 298h2v1h-2zM301 298h1v1h-1zM292 299h3v1h-3zM296 299h2v1h-2zM300 299h3v1h-3zM293 300h1v1h-1zM296 300h2v1h-2zM300 300h3v1h-3zM296 301h2v1h-2zM299 301h5v1h-5zM299 302h6v1h-6zM301 303h4v1h-4zM301 304h1v1h-1zM303 304h2v1h-2zM310 304h1v1h-1zM303 305h1v1h-1zM306 305h2v1h-2zM309 305h3v1h-3zM306 306h2v1h-2zM309 306h3v1h-3zM307 307h2v1h-2zM310 307h3v1h-3zM310 308h3v1h-3zM316 308h1v1h-1zM311 309h4v1h-4zM316 309h2v1h-2zM314 310h3v1h-3zM315 311h2v1h-2zM316 312h1v1h-1zM320 312h2v1h-2zM319 313h1v1h-1zM321 313h4v1h-4zM318 314h1v1h-1zM322 314h3v1h-3zM326 314h2v1h-2zM322 315h1v1h-1zM324 315h1v1h-1zM326 315h2v1h-2zM329 315h2v1h-2zM324 316h1v1h-1zM326 316h2v1h-2zM330 316h2v1h-2zM332 317h1v1h-1zM331 318h3v1h-3zM336 318h2v1h-2zM340 318h2v1h-2zM330 319h4v1h-4zM336 319h2v1h-2zM340 319h2v1h-2zM330 320h2v1h-2zM340 320h2v1h-2zM330 321h2v1h-2zM349 323h2v1h-2zM344 324h1v1h-1zM349 324h4v1h-4zM347 325h1v1h-1zM350 325h3v1h-3zM356 325h1v1h-1zM352 326h3v1h-3zM356 326h2v1h-2zM361 326h2v1h-2zM352 327h3v1h-3zM356 327h1v1h-1zM359 327h4v1h-4zM352 328h2v1h-2zM359 328h6v1h-6zM366 328h1v1h-1zM353 329h1v1h-1zM359 329h6v1h-6zM366 329h1v1h-1zM369 329h2v1h-2zM352 330h1v1h-1zM360 330h4v1h-4zM369 330h2v1h-2zM373 330h1v1h-1zM361 331h3v1h-3zM369 331h2v1h-2zM372 331h2v1h-2zM361 332h1v1h-1zM370 332h7v1h-7zM372 333h1v1h-1zM375 333h3v1h-3zM382 333h2v1h-2zM372 334h1v1h-1zM376 334h1v1h-1zM382 334h2v1h-2zM386 334h1v1h-1zM379 335h1v1h-1zM382 335h1v1h-1zM386 335h2v1h-2zM382 336h1v1h-1zM386 336h2v1h-2zM389 336h2v1h-2zM392 336h2v1h-2zM399 336h1v1h-1zM386 337h2v1h-2zM389 337h5v1h-5zM399 337h3v1h-3zM380 338h1v1h-1zM389 338h2v1h-2zM392 338h2v1h-2zM397 338h1v1h-1zM399 338h3v1h-3zM384 339h1v1h-1zM392 339h1v1h-1zM398 339h4v1h-4zM384 340h1v1h-1zM398 340h5v1h-5zM416 340h1v1h-1zM400 341h3v1h-3zM409 341h4v1h-4zM415 341h2v1h-2zM408 342h6v1h-6zM415 342h2v1h-2zM419 342h1v1h-1zM391 343h2v1h-2zM396 343h1v1h-1zM411 343h3v1h-3zM415 343h2v1h-2zM419 343h3v1h-3zM413 344h1v1h-1zM415 344h3v1h-3zM419 344h5v1h-5zM430 344h3v1h-3zM414 345h2v1h-2zM417 345h1v1h-1zM419 345h5v1h-5zM429 345h5v1h-5zM414 346h1v1h-1zM417 346h1v1h-1zM420 346h4v1h-4zM429 346h5v1h-5zM421 347h3v1h-3zM429 347h5v1h-5zM436 347h2v1h-2zM420 348h1v1h-1zM428 348h1v1h-1zM432 348h1v1h-1zM436 348h2v1h-2zM440 348h1v1h-1zM420 349h1v1h-1zM435 349h1v1h-1zM437 349h1v1h-1zM439 349h3v1h-3zM445 349h2v1h-2zM435 350h1v1h-1zM439 350h3v1h-3zM445 350h3v1h-3zM450 350h2v1h-2zM453 350h1v1h-1zM439 351h3v1h-3zM445 351h3v1h-3zM450 351h2v1h-2zM453 351h2v1h-2zM456 351h1v1h-1zM462 351h1v1h-1zM440 352h1v1h-1zM444 352h1v1h-1zM446 352h1v1h-1zM448 352h2v1h-2zM451 352h1v1h-1zM454 352h3v1h-3zM460 352h4v1h-4zM469 352h2v1h-2zM455 353h2v1h-2zM460 353h4v1h-4zM469 353h2v1h-2zM442 354h1v1h-1zM455 354h2v1h-2zM461 354h3v1h-3zM466 354h1v1h-1zM468 354h4v1h-4zM473 354h1v1h-1zM483 354h1v1h-1zM456 355h1v1h-1zM462 355h2v1h-2zM465 355h1v1h-1zM468 355h9v1h-9zM483 355h2v1h-2zM470 356h5v1h-5zM476 356h2v1h-2zM481 356h4v1h-4zM487 356h1v1h-1zM490 356h1v1h-1zM476 357h2v1h-2zM482 357h6v1h-6zM490 357h4v1h-4zM476 358h1v1h-1zM482 358h2v1h-2zM490 358h4v1h-4zM476 359h1v1h-1zM490 359h5v1h-5zM500 359h2v1h-2zM490 360h1v1h-1zM492 360h2v1h-2zM499 360h3v1h-3zM503 360h1v1h-1zM490 361h1v1h-1zM499 361h2v1h-2zM503 361h2v1h-2zM513 361h1v1h-1zM489 362h2v1h-2zM497 362h1v1h-1zM500 362h1v1h-1zM503 362h2v1h-2zM512 362h3v1h-3zM521 362h2v1h-2zM489 363h2v1h-2zM497 363h1v1h-1zM500 363h1v1h-1zM504 363h1v1h-1zM506 363h2v1h-2zM512 363h3v1h-3zM516 363h1v1h-1zM518 363h1v1h-1zM520 363h3v1h-3zM524 363h1v1h-1zM497 364h1v1h-1zM505 364h1v1h-1zM512 364h1v1h-1zM514 364h1v1h-1zM516 364h1v1h-1zM520 364h5v1h-5zM504 365h2v1h-2zM519 365h6v1h-6zM521 366h3v1h-3zM531 366h3v1h-3zM537 366h1v1h-1zM543 366h2v1h-2zM510 367h2v1h-2zM523 367h1v1h-1zM530 367h5v1h-5zM536 367h2v1h-2zM543 367h2v1h-2zM511 368h2v1h-2zM529 368h6v1h-6zM537 368h2v1h-2zM543 368h2v1h-2zM512 369h1v1h-1zM525 369h1v1h-1zM530 369h1v1h-1zM537 369h2v1h-2zM543 369h2v1h-2zM551 369h1v1h-1zM553 369h2v1h-2zM530 370h1v1h-1zM538 370h1v1h-1zM546 370h2v1h-2zM551 370h5v1h-5zM559 370h2v1h-2zM546 371h2v1h-2zM552 371h4v1h-4zM559 371h2v1h-2zM574 371h1v1h-1zM546 372h1v1h-1zM552 372h2v1h-2zM560 372h1v1h-1zM563 372h1v1h-1zM573 372h2v1h-2zM581 372h1v1h-1zM553 373h1v1h-1zM560 373h1v1h-1zM570 373h2v1h-2zM573 373h2v1h-2zM580 373h3v1h-3zM560 374h1v1h-1zM572 374h4v1h-4zM580 374h5v1h-5zM567 375h2v1h-2zM573 375h3v1h-3zM580 375h6v1h-6zM573 376h3v1h-3zM580 376h5v1h-5zM588 376h1v1h-1zM591 376h1v1h-1zM594 376h1v1h-1zM598 376h1v1h-1zM581 377h2v1h-2zM584 377h1v1h-1zM588 377h1v1h-1zM591 377h1v1h-1zM594 377h2v1h-2zM598 377h2v1h-2zM611 377h2v1h-2zM595 378h2v1h-2zM598 378h1v1h-1zM602 378h1v1h-1zM605 378h2v1h-2zM611 378h2v1h-2zM589 379h1v1h-1zM602 379h1v1h-1zM606 379h1v1h-1zM611 379h5v1h-5zM602 380h2v1h-2zM606 380h1v1h-1zM612 380h4v1h-4zM612 381h3v1h-3zM602 382h1v1h-1zM613 382h2v1h-2zM602 383h1v1h-1zM610 384h1v1h-1zM610 385h1v1h-1z"/>
<path fill="#0000ff" d="M95 54h1v1h-1zM93 55h3v1h-3zM98 60h1v1h-1zM100 64h3v1h-3zM100 65h4v1h-4zM101 66h4v1h-4zM101 67h4v1h-4zM102 68h4v1h-4zM103 69h3v1h-3zM103 70h3v1h-3zM104 71h3v1h-3zM104 72h4v1h-4zM105 73h1v1h-1zM107 76h3v1h-3zM108 77h2v1h-2zM108 78h2v1h-2zM108 79h2v1h-2zM112 79h1v1h-1zM109 80h1v1h-1zM111 80h3v1h-3zM111 81h3v1h-3zM111 82h4v1h-4zM112 83h3v1h-3zM112 84h4v1h-4zM113 85h3v1h-3zM114 86h3v1h-3zM114 87h3v1h-3zM114 88h4v1h-4zM115 89h3v1h-3zM115 90h3v1h-3zM116 91h1v1h-1zM118 93h2v1h-2zM118 94h2v1h-2zM118 95h2v1h-2zM120 100h3v1h-3zM120 101h3v1h-3zM120 102h3v1h-3zM121 103h3v1h-3zM121 104h2v1h-2zM121 105h2v1h-2zM122 106h1v1h-1zM122 107h1v1h-1zM122 108h1v1h-1zM123 109h1v1h-1zM123 110h2v1h-2zM127 112h1v1h-1zM125 113h3v1h-3zM125 114h1v1h-1zM129 117h1v1h-1zM129 118h1v1h-1zM129 119h1v1h-1zM129 120h2v1h-2zM130 121h1v1h-1zM130 122h1v1h-1zM128 123h3v1h-3zM129 124h3v1h-3zM129 125h3v1h-3zM129 126h3v1h-3zM129 127h2v1h-2zM132 131h1v1h-1zM132 132h1v1h-1zM132 133h1v1h-1zM132 136h3v1h-3zM132 137h3v1h-3zM133 138h3v1h-3zM133 139h3v1h-3zM133 140h3v1h-3zM133 141h3v1h-3zM134 142h3v1h-3zM134 143h3v1h-3zM135 144h2v1h-2zM135 145h2v1h-2zM136 150h2v1h-2zM136 151h3v1h-3zM139 155h1v1h-1zM139 156h1v1h-1zM139 157h2v1h-2zM140 158h1v1h-1zM140 159h1v1h-1zM140 160h1v1h-1zM139 161h3v1h-3zM139 162h3v1h-3zM139 163h3v1h-3zM140 164h3v1h-3zM140 165h1v1h-1zM144 167h1v1h-1zM144 173h2v1h-2zM143 174h3v1h-3zM144 175h3v1h-3zM144 176h3v1h-3zM144 177h3v1h-3zM144 178h1v1h-1zM145 179h1v1h-1zM145 180h1v1h-1zM146 181h1v1h-1zM146 182h1v1h-1zM146 183h1v1h-1zM150 183h1v1h-1zM149 184h2v1h-2zM149 185h3v1h-3zM149 186h2v1h-2zM150 187h1v1h-1zM152 190h1v1h-1zM151 191h3v1h-3zM152 192h2v1h-2zM153 193h2v1h-2zM153 194h3v1h-3zM153 195h3v1h-3zM153 196h4v1h-4zM154 197h4v1h-4zM154 198h4v1h-4zM155 199h2v1h-2zM158 199h2v1h-2zM157 200h4v1h-4zM158 201h3v1h-3zM158 202h3v1h-3zM158 203h1v1h-1zM160 204h3v1h-3zM160 205h5v1h-5zM160 206h6v1h-6zM160 207h7v1h-7zM161 208h6v1h-6zM164 209h4v1h-4zM165 210h3v1h-3zM165 211h3v1h-3zM165 212h3v1h-3zM166 213h1v1h-1zM168 214h2v1h-2zM168 215h3v1h-3zM168 216h3v1h-3zM172 216h1v1h-1zM168 217h7v1h-7zM171 218h4v1h-4zM171 219h5v1h-5zM172 220h5v1h-5zM173 221h5v1h-5zM173 222h5v1h-5zM175 223h4v1h-4zM176 224h3v1h-3zM180 224h1v1h-1zM176 225h6v1h-6zM176 226h3v1h-3zM180 226h2v1h-2zM180 227h2v1h-2zM182 230h2v1h-2zM182 231h3v1h-3zM183 232h3v1h-3zM183 233h4v1h-4zM184 234h3v1h-3zM184 235h3v1h-3zM185 236h3v1h-3zM187 237h2v1h-2zM187 238h2v1h-2zM189 239h3v1h-3zM190 240h2v1h-2zM190 241h2v1h-2zM193 244h1v1h-1zM192 245h3v1h-3zM193 246h3v1h-3zM197 246h1v1h-1zM193 247h5v1h-5zM195 248h3v1h-3zM195 249h3v1h-3zM196 250h2v1h-2zM197 251h1v1h-1zM198 252h2v1h-2zM198 253h2v1h-2zM199 254h1v1h-1zM201 255h2v1h-2zM201 256h3v1h-3zM201 257h4v1h-4zM202 258h4v1h-4zM202 259h4v1h-4zM204 260h2v1h-2zM204 261h3v1h-3zM204 262h3v1h-3zM205 263h2v1h-2zM205 264h3v1h-3zM207 267h2v1h-2zM207 268h3v1h-3zM208 269h4v1h-4zM209 270h4v1h-4zM210 271h3v1h-3zM211 272h3v1h-3zM211 273h3v1h-3zM211 274h4v1h-4zM212 275h3v1h-3zM212 276h3v1h-3zM213 277h2v1h-2zM216 278h2v1h-2zM216 279h2v1h-2zM216 280h2v1h-2zM215 281h5v1h-5zM216 282h6v1h-6zM216 283h1v1h-1zM218 283h4v1h-4zM218 284h4v1h-4zM219 285h4v1h-4zM220 286h3v1h-3zM221 287h3v1h-3zM221 288h4v1h-4zM226 288h1v1h-1zM222 289h3v1h-3zM226 289h2v1h-2zM223 290h1v1h-1zM226 290h2v1h-2zM226 291h2v1h-2zM228 292h3v1h-3zM228 293h4v1h-4zM228 294h4v1h-4zM228 295h7v1h-7zM229 296h6v1h-6zM231 297h5v1h-5zM232 298h4v1h-4zM234 299h2v1h-2zM234 300h1v1h-1zM240 300h1v1h-1zM236 301h6v1h-6zM236 302h6v1h-6zM237 303h7v1h-7zM240 304h4v1h-4zM240 305h4v1h-4zM241 306h3v1h-3zM241 307h4v1h-4zM242 308h4v1h-4zM243 309h6v1h-6zM250 309h2v1h-2zM245 310h1v1h-1zM247 310h6v1h-6zM247 311h6v1h-6zM249 312h7v1h-7zM250 313h6v1h-6zM251 314h6v1h-6zM251 315h9v1h-9zM254 316h6v1h-6zM262 316h2v1h-2zM256 317h1v1h-1zM258 317h2v1h-2zM262 317h3v1h-3zM258 318h2v1h-2zM262 318h4v1h-4zM259 319h1v1h-1zM261 319h5v1h-5zM261 320h6v1h-6zM262 321h6v1h-6zM269 321h4v1h-4zM264 322h8v1h-8zM265 323h5v1h-5zM273 323h2v1h-2zM267 324h2v1h-2zM273 324h3v1h-3zM278 324h2v1h-2zM273 325h3v1h-3zM278 325h2v1h-2zM272 326h8v1h-8zM273 327h8v1h-8zM286 327h2v1h-2zM273 328h1v1h-1zM275 328h9v1h-9zM285 328h4v1h-4zM278 329h6v1h-6zM286 329h3v1h-3zM279 330h2v1h-2zM282 330h1v1h-1zM286 330h5v1h-5zM286 331h6v1h-6zM294 331h1v1h-1zM286 332h6v1h-6zM293 332h3v1h-3zM286 333h6v1h-6zM294 333h1v1h-1zM288 334h5v1h-5zM300 334h4v1h-4zM289 335h3v1h-3zM298 335h6v1h-6zM297 336h7v1h-7zM296 337h11v1h-11zM297 338h7v1h-7zM305 338h4v1h-4zM298 339h3v1h-3zM303 339h1v1h-1zM305 339h5v1h-5zM299 340h1v1h-1zM307 340h3v1h-3zM307 341h4v1h-4zM307 342h6v1h-6zM308 343h6v1h-6zM316 343h1v1h-1zM310 344h4v1h-4zM315 344h2v1h-2zM320 344h1v1h-1zM323 344h2v1h-2zM310 345h4v1h-4zM315 345h2v1h-2zM319 345h6v1h-6zM313 346h2v1h-2zM318 346h8v1h-8zM331 346h1v1h-1zM318 347h8v1h-8zM327 347h1v1h-1zM331 347h2v1h-2zM319 348h2v1h-2zM322 348h7v1h-7zM330 348h4v1h-4zM322 349h3v1h-3zM326 349h9v1h-9zM326 350h3v1h-3zM331 350h4v1h-4zM332 351h5v1h-5zM338 351h2v1h-2zM341 351h2v1h-2zM333 352h7v1h-7zM341 352h2v1h-2zM346 352h2v1h-2zM334 353h2v1h-2zM337 353h3v1h-3zM341 353h3v1h-3zM346 353h2v1h-2zM334 354h2v1h-2zM337 354h2v1h-2zM341 354h3v1h-3zM345 354h5v1h-5zM342 355h6v1h-6zM349 355h1v1h-1zM353 355h4v1h-4zM342 356h5v1h-5zM352 356h6v1h-6zM344 357h2v1h-2zM352 357h6v1h-6zM344 358h2v1h-2zM351 358h7v1h-7zM363 358h1v1h-1zM344 359h2v1h-2zM351 359h2v1h-2zM355 359h6v1h-6zM363 359h2v1h-2zM370 359h1v1h-1zM375 359h3v1h-3zM352 360h1v1h-1zM356 360h2v1h-2zM359 360h2v1h-2zM362 360h4v1h-4zM367 360h1v1h-1zM369 360h2v1h-2zM375 360h3v1h-3zM352 361h1v1h-1zM359 361h2v1h-2zM362 361h6v1h-6zM369 361h2v1h-2zM375 361h3v1h-3zM359 362h2v1h-2zM362 362h9v1h-9zM373 362h6v1h-6zM359 363h2v1h-2zM364 363h3v1h-3zM370 363h1v1h-1zM372 363h7v1h-7zM383 363h2v1h-2zM372 364h4v1h-4zM377 364h2v1h-2zM380 364h2v1h-2zM383 364h5v1h-5zM372 365h4v1h-4zM377 365h2v1h-2zM380 365h2v1h-2zM383 365h6v1h-6zM390 365h2v1h-2zM373 366h3v1h-3zM377 366h2v1h-2zM380 366h9v1h-9zM390 366h2v1h-2zM398 366h2v1h-2zM406 366h2v1h-2zM375 367h1v1h-1zM385 367h7v1h-7zM396 367h4v1h-4zM406 367h2v1h-2zM385 368h7v1h-7zM395 368h5v1h-5zM401 368h2v1h-2zM406 368h2v1h-2zM386 369h6v1h-6zM393 369h7v1h-7zM401 369h2v1h-2zM404 369h4v1h-4zM409 369h1v1h-1zM415 369h2v1h-2zM388 370h4v1h-4zM393 370h7v1h-7zM401 370h2v1h-2zM404 370h6v1h-6zM415 370h2v1h-2zM390 371h2v1h-2zM393 371h4v1h-4zM398 371h1v1h-1zM401 371h2v1h-2zM404 371h7v1h-7zM412 371h2v1h-2zM415 371h2v1h-2zM418 371h1v1h-1zM429 371h2v1h-2zM395 372h1v1h-1zM402 372h9v1h-9zM412 372h2v1h-2zM415 372h5v1h-5zM422 372h6v1h-6zM429 372h2v1h-2zM404 373h7v1h-7zM416 373h5v1h-5zM422 373h11v1h-11zM437 373h2v1h-2zM404 374h3v1h-3zM408 374h3v1h-3zM416 374h6v1h-6zM423 374h1v1h-1zM426 374h7v1h-7zM437 374h4v1h-4zM418 375h3v1h-3zM427 375h6v1h-6zM436 375h7v1h-7zM445 375h1v1h-1zM452 375h1v1h-1zM419 376h2v1h-2zM427 376h2v1h-2zM430 376h3v1h-3zM436 376h7v1h-7zM445 376h1v1h-1zM449 376h4v1h-4zM431 377h1v1h-1zM434 377h1v1h-1zM436 377h7v1h-7zM444 377h1v1h-1zM448 377h6v1h-6zM455 377h2v1h-2zM461 377h1v1h-1zM433 378h3v1h-3zM437 378h6v1h-6zM447 378h6v1h-6zM455 378h2v1h-2zM460 378h3v1h-3zM434 379h1v1h-1zM437 379h6v1h-6zM447 379h6v1h-6zM455 379h2v1h-2zM458 379h6v1h-6zM439 380h5v1h-5zM448 380h5v1h-5zM454 380h2v1h-2zM457 380h8v1h-8zM477 380h1v1h-1zM442 381h1v1h-1zM448 381h5v1h-5zM454 381h2v1h-2zM457 381h8v1h-8zM469 381h3v1h-3zM476 381h2v1h-2zM483 381h1v1h-1zM451 382h1v1h-1zM457 382h10v1h-10zM468 382h6v1h-6zM476 382h3v1h-3zM483 382h2v1h-2zM457 383h2v1h-2zM460 383h1v1h-1zM462 383h24v1h-24zM490 383h3v1h-3zM498 383h2v1h-2zM462 384h3v1h-3zM466 384h1v1h-1zM469 384h1v1h-1zM471 384h8v1h-8zM480 384h7v1h-7zM490 384h6v1h-6zM498 384h2v1h-2zM463 385h1v1h-1zM471 385h8v1h-8zM480 385h6v1h-6zM487 385h1v1h-1zM490 385h6v1h-6zM498 385h4v1h-4zM471 386h4v1h-4zM477 386h2v1h-2zM480 386h6v1h-6zM487 386h2v1h-2zM490 386h2v1h-2zM493 386h4v1h-4zM498 386h6v1h-6zM505 386h1v1h-1zM513 386h2v1h-2zM473 387h2v1h-2zM485 387h1v1h-1zM487 387h2v1h-2zM493 387h4v1h-4zM498 387h9v1h-9zM509 387h1v1h-1zM513 387h2v1h-2zM528 387h1v1h-1zM488 388h1v1h-1zM493 388h4v1h-4zM498 388h2v1h-2zM501 388h6v1h-6zM508 388h3v1h-3zM512 388h3v1h-3zM516 388h2v1h-2zM520 388h1v1h-1zM527 388h3v1h-3zM493 389h4v1h-4zM499 389h9v1h-9zM509 389h2v1h-2zM512 389h10v1h-10zM524 389h2v1h-2zM527 389h5v1h-5zM536 389h1v1h-1zM494 390h3v1h-3zM503 390h5v1h-5zM509 390h12v1h-12zM523 390h3v1h-3zM527 390h2v1h-2zM530 390h2v1h-2zM534 390h1v1h-1zM536 390h3v1h-3zM544 390h1v1h-1zM503 391h4v1h-4zM509 391h1v1h-1zM511 391h5v1h-5zM523 391h6v1h-6zM530 391h9v1h-9zM544 391h2v1h-2zM505 392h1v1h-1zM514 392h2v1h-2zM522 392h2v1h-2zM525 392h3v1h-3zM530 392h2v1h-2zM533 392h7v1h-7zM542 392h4v1h-4zM547 392h2v1h-2zM525 393h3v1h-3zM530 393h2v1h-2zM533 393h18v1h-18zM556 393h1v1h-1zM558 393h2v1h-2zM530 394h2v1h-2zM534 394h6v1h-6zM541 394h10v1h-10zM552 394h1v1h-1zM555 394h7v1h-7zM567 394h1v1h-1zM530 395h2v1h-2zM534 395h1v1h-1zM537 395h2v1h-2zM542 395h1v1h-1zM544 395h6v1h-6zM551 395h2v1h-2zM554 395h8v1h-8zM566 395h5v1h-5zM574 395h1v1h-1zM580 395h2v1h-2zM542 396h1v1h-1zM545 396h5v1h-5zM552 396h10v1h-10zM563 396h9v1h-9zM573 396h2v1h-2zM580 396h3v1h-3zM589 396h1v1h-1zM547 397h3v1h-3zM552 397h10v1h-10zM563 397h4v1h-4zM568 397h4v1h-4zM573 397h3v1h-3zM578 397h1v1h-1zM580 397h3v1h-3zM587 397h4v1h-4zM595 397h2v1h-2zM548 398h1v1h-1zM555 398h6v1h-6zM563 398h1v1h-1zM568 398h4v1h-4zM573 398h3v1h-3zM577 398h6v1h-6zM587 398h4v1h-4zM595 398h2v1h-2zM560 399h1v1h-1zM568 399h5v1h-5zM577 399h6v1h-6zM588 399h4v1h-4zM595 399h2v1h-2zM600 399h2v1h-2zM612 399h1v1h-1zM571 400h2v1h-2zM576 400h6v1h-6zM588 400h5v1h-5zM594 400h3v1h-3zM600 400h2v1h-2zM611 400h2v1h-2zM572 401h1v1h-1zM576 401h4v1h-4zM584 401h2v1h-2zM589 401h5v1h-5zM600 401h5v1h-5zM610 401h4v1h-4zM585 402h1v1h-1zM589 402h5v1h-5zM598 402h7v1h-7zM606 402h1v1h-1zM610 402h5v1h-5zM592 403h1v1h-1zM598 403h7v1h-7zM606 403h1v1h-1zM610 403h5v1h-5zM598 404h6v1h-6zM606 404h1v1h-1zM608 404h8v1h-8zM602 405h2v1h-2zM609 405h2v1h-2zM612 405h4v1h-4zM609 406h1v1h-1zM612 406h4v1h-4zM614 407h1v1h-1z"/>
<path fill="#8000ff" d="M88 52h1v1h-1zM93 52h1v1h-1zM90 53h5v1h-5zM92 54h3v1h-3zM96 55h1v1h-1zM94 56h2v1h-2zM95 57h2v1h-2zM95 58h3v1h-3zM97 59h2v1h-2zM108 61h2v1h-2zM103 62h2v1h-2zM108 62h3v1h-3zM104 63h2v1h-2zM109 63h3v1h-3zM108 64h4v1h-4zM109 65h4v1h-4zM114 65h2v1h-2zM110 66h1v1h-1zM112 66h5v1h-5zM113 67h4v1h-4zM115 68h2v1h-2zM116 69h2v1h-2zM116 70h1v1h-1zM119 71h2v1h-2zM118 72h4v1h-4zM119 73h4v1h-4zM120 74h5v1h-5zM120 75h5v1h-5zM121 76h5v1h-5zM121 77h5v1h-5zM123 78h4v1h-4zM124 79h3v1h-3zM128 81h2v1h-2zM127 82h3v1h-3zM127 83h5v1h-5zM128 84h4v1h-4zM129 85h4v1h-4zM130 86h4v1h-4zM130 87h4v1h-4zM131 88h3v1h-3zM133 89h1v1h-1zM136 91h3v1h-3zM135 92h5v1h-5zM135 93h5v1h-5zM136 94h5v1h-5zM137 95h4v1h-4zM139 96h3v1h-3zM139 97h3v1h-3zM140 98h2v1h-2zM141 99h1v1h-1zM143 102h2v1h-2zM143 103h2v1h-2zM142 104h3v1h-3zM143 105h3v1h-3zM145 106h3v1h-3zM145 107h3v1h-3zM146 108h2v1h-2zM146 109h3v1h-3zM149 112h2v1h-2zM149 113h3v1h-3zM150 114h4v1h-4zM151 115h4v1h-4zM151 116h5v1h-5zM152 117h3v1h-3zM151 118h5v1h-5zM152 119h3v1h-3zM156 120h2v1h-2zM155 121h4v1h-4zM156 122h4v1h-4zM157 123h5v1h-5zM157 124h5v1h-5zM158 125h5v1h-5zM158 126h5v1h-5zM164 129h1v1h-1zM164 130h2v1h-2zM163 131h4v1h-4zM163 132h4v1h-4zM164 133h4v1h-4zM165 134h3v1h-3zM166 135h2v1h-2zM167 136h1v1h-1zM170 137h1v1h-1zM169 138h3v1h-3zM169 139h3v1h-3zM170 140h3v1h-3zM170 141h4v1h-4zM170 142h4v1h-4zM171 143h4v1h-4zM172 144h3v1h-3zM172 145h1v1h-1zM175 145h1v1h-1zM177 148h2v1h-2zM177 149h2v1h-2zM178 150h1v1h-1zM178 151h2v1h-2zM178 152h2v1h-2zM178 153h2v1h-2zM178 154h3v1h-3zM178 155h2v1h-2zM178 156h2v1h-2zM181 158h3v1h-3zM183 159h2v1h-2zM183 160h2v1h-2zM183 161h3v1h-3zM183 162h3v1h-3zM184 163h2v1h-2zM186 166h2v1h-2zM186 167h3v1h-3zM186 168h3v1h-3zM186 169h4v1h-4zM187 170h3v1h-3zM187 171h3v1h-3zM187 172h4v1h-4zM189 173h2v1h-2zM191 175h3v1h-3zM191 176h3v1h-3zM192 177h3v1h-3zM192 178h4v1h-4zM193 179h3v1h-3zM193 180h3v1h-3zM193 181h3v1h-3zM194 182h3v1h-3zM194 183h3v1h-3zM195 184h1v1h-1zM198 185h2v1h-2zM197 186h3v1h-3zM198 187h4v1h-4zM198 188h4v1h-4zM199 189h3v1h-3zM200 190h2v1h-2zM200 191h3v1h-3zM200 192h3v1h-3zM203 194h2v1h-2zM203 195h4v1h-4zM203 196h5v1h-5zM204 197h4v1h-4zM204 198h4v1h-4zM204 199h4v1h-4zM204 200h5v1h-5zM206 201h1v1h-1zM209 201h1v1h-1zM209 202h1v1h-1zM208 203h2v1h-2zM208 204h3v1h-3zM208 205h4v1h-4zM209 206h3v1h-3zM209 207h3v1h-3zM210 208h3v1h-3zM210 209h3v1h-3zM210 210h2v1h-2zM214 210h1v1h-1zM213 211h3v1h-3zM213 212h4v1h-4zM213 213h4v1h-4zM214 214h4v1h-4zM215 215h3v1h-3zM216 216h2v1h-2zM216 217h3v1h-3zM216 218h3v1h-3zM217 219h1v1h-1zM219 219h4v1h-4zM219 220h4v1h-4zM219 221h4v1h-4zM220 222h3v1h-3zM220 223h4v1h-4zM221 224h3v1h-3zM222 225h1v1h-1zM224 227h2v1h-2zM224 228h3v1h-3zM225 229h2v1h-2zM225 230h3v1h-3zM225 231h4v1h-4zM226 232h4v1h-4zM227 233h4v1h-4zM228 234h4v1h-4zM230 235h2v1h-2zM230 236h3v1h-3zM230 237h4v1h-4zM230 238h4v1h-4zM232 239h2v1h-2zM232 240h3v1h-3zM233 241h2v1h-2zM236 241h2v1h-2zM233 242h5v1h-5zM235 243h3v1h-3zM236 244h3v1h-3zM237 245h2v1h-2zM237 246h3v1h-3zM237 247h3v1h-3zM238 248h3v1h-3zM242 250h1v1h-1zM240 251h5v1h-5zM243 252h2v1h-2zM243 253h2v1h-2zM244 254h2v1h-2zM245 255h2v1h-2zM245 256h1v1h-1zM247 257h2v1h-2zM246 258h3v1h-3zM246 259h1v1h-1zM248 259h1v1h-1zM246 260h1v1h-1zM248 260h2v1h-2zM254 265h1v1h-1zM252 266h3v1h-3zM252 267h4v1h-4zM253 268h3v1h-3zM253 269h2v1h-2zM258 269h3v1h-3zM253 270h2v1h-2zM259 270h2v1h-2zM260 271h1v1h-1zM260 272h3v1h-3zM257 273h1v1h-1zM261 273h2v1h-2zM261 274h2v1h-2zM262 275h1v1h-1zM266 277h2v1h-2zM264 278h4v1h-4zM264 279h1v1h-1zM268 279h1v1h-1zM268 280h1v1h-1zM268 281h2v1h-2zM269 282h1v1h-1zM273 285h2v1h-2zM270 286h1v1h-1zM273 286h3v1h-3zM270 287h1v1h-1zM273 287h5v1h-5zM276 288h2v1h-2zM277 289h3v1h-3zM278 290h2v1h-2zM278 291h2v1h-2zM278 292h4v1h-4zM279 293h1v1h-1zM282 293h1v1h-1zM278 294h1v1h-1zM283 294h2v1h-2zM279 295h1v1h-1zM284 295h2v1h-2zM279 296h1v1h-1zM284 296h4v1h-4zM285 297h4v1h-4zM285 298h4v1h-4zM286 299h6v1h-6zM287 300h5v1h-5zM287 301h1v1h-1zM290 301h6v1h-6zM291 302h5v1h-5zM297 302h1v1h-1zM293 303h8v1h-8zM293 304h1v1h-1zM297 304h4v1h-4zM298 305h4v1h-4zM304 305h1v1h-1zM299 306h3v1h-3zM304 306h2v1h-2zM299 307h4v1h-4zM304 307h3v1h-3zM299 308h3v1h-3zM303 308h5v1h-5zM301 309h1v1h-1zM304 309h5v1h-5zM304 310h1v1h-1zM307 310h3v1h-3zM311 310h3v1h-3zM307 311h8v1h-8zM307 312h9v1h-9zM307 313h2v1h-2zM311 313h5v1h-5zM320 313h1v1h-1zM312 314h6v1h-6zM319 314h3v1h-3zM312 315h10v1h-10zM323 315h1v1h-1zM315 316h9v1h-9zM328 316h2v1h-2zM316 317h16v1h-16zM334 317h1v1h-1zM318 318h3v1h-3zM322 318h9v1h-9zM334 318h2v1h-2zM322 319h2v1h-2zM325 319h5v1h-5zM334 319h2v1h-2zM322 320h2v1h-2zM325 320h4v1h-4zM332 320h6v1h-6zM342 320h1v1h-1zM332 321h6v1h-6zM341 321h2v1h-2zM332 322h6v1h-6zM340 322h4v1h-4zM332 323h6v1h-6zM339 323h5v1h-5zM333 324h2v1h-2zM336 324h1v1h-1zM339 324h5v1h-5zM339 325h6v1h-6zM346 325h1v1h-1zM339 326h9v1h-9zM350 326h2v1h-2zM340 327h2v1h-2zM343 327h9v1h-9zM343 328h1v1h-1zM346 328h6v1h-6zM354 328h2v1h-2zM346 329h7v1h-7zM354 329h5v1h-5zM347 330h2v1h-2zM353 330h6v1h-6zM364 330h4v1h-4zM353 331h8v1h-8zM364 331h4v1h-4zM353 332h8v1h-8zM362 332h6v1h-6zM355 333h1v1h-1zM359 333h6v1h-6zM366 333h6v1h-6zM373 333h2v1h-2zM359 334h6v1h-6zM366 334h6v1h-6zM373 334h3v1h-3zM377 334h2v1h-2zM380 334h2v1h-2zM360 335h5v1h-5zM367 335h12v1h-12zM380 335h2v1h-2zM383 335h2v1h-2zM361 336h3v1h-3zM367 336h5v1h-5zM373 336h9v1h-9zM383 336h3v1h-3zM367 337h2v1h-2zM371 337h1v1h-1zM375 337h11v1h-11zM395 337h2v1h-2zM375 338h4v1h-4zM381 338h6v1h-6zM391 338h1v1h-1zM395 338h2v1h-2zM376 339h2v1h-2zM381 339h3v1h-3zM385 339h1v1h-1zM387 339h5v1h-5zM394 339h4v1h-4zM382 340h2v1h-2zM387 340h6v1h-6zM394 340h4v1h-4zM403 340h2v1h-2zM382 341h1v1h-1zM389 341h11v1h-11zM403 341h3v1h-3zM389 342h11v1h-11zM401 342h5v1h-5zM397 343h3v1h-3zM401 343h5v1h-5zM408 343h3v1h-3zM398 344h2v1h-2zM401 344h12v1h-12zM399 345h1v1h-1zM401 345h1v1h-1zM404 345h10v1h-10zM416 345h1v1h-1zM399 346h1v1h-1zM405 346h9v1h-9zM415 346h2v1h-2zM418 346h2v1h-2zM426 346h1v1h-1zM405 347h1v1h-1zM407 347h7v1h-7zM415 347h6v1h-6zM425 347h2v1h-2zM401 348h1v1h-1zM408 348h3v1h-3zM413 348h1v1h-1zM415 348h5v1h-5zM421 348h2v1h-2zM425 348h3v1h-3zM429 348h3v1h-3zM433 348h1v1h-1zM414 349h2v1h-2zM418 349h2v1h-2zM421 349h3v1h-3zM425 349h10v1h-10zM436 349h1v1h-1zM442 349h2v1h-2zM415 350h1v1h-1zM422 350h13v1h-13zM436 350h2v1h-2zM442 350h2v1h-2zM422 351h4v1h-4zM428 351h3v1h-3zM432 351h6v1h-6zM442 351h2v1h-2zM429 352h1v1h-1zM433 352h7v1h-7zM441 352h3v1h-3zM450 352h1v1h-1zM452 352h2v1h-2zM436 353h5v1h-5zM442 353h4v1h-4zM449 353h6v1h-6zM437 354h1v1h-1zM443 354h5v1h-5zM449 354h6v1h-6zM457 354h4v1h-4zM443 355h2v1h-2zM447 355h9v1h-9zM457 355h5v1h-5zM464 355h1v1h-1zM466 355h2v1h-2zM447 356h23v1h-23zM479 356h2v1h-2zM447 357h2v1h-2zM451 357h3v1h-3zM456 357h6v1h-6zM463 357h12v1h-12zM478 357h4v1h-4zM447 358h1v1h-1zM452 358h2v1h-2zM457 358h2v1h-2zM460 358h1v1h-1zM464 358h4v1h-4zM470 358h5v1h-5zM477 358h5v1h-5zM486 358h2v1h-2zM466 359h2v1h-2zM470 359h6v1h-6zM477 359h7v1h-7zM486 359h3v1h-3zM466 360h2v1h-2zM471 360h13v1h-13zM486 360h4v1h-4zM494 360h2v1h-2zM502 360h1v1h-1zM466 361h1v1h-1zM475 361h15v1h-15zM491 361h7v1h-7zM501 361h2v1h-2zM475 362h1v1h-1zM477 362h1v1h-1zM481 362h2v1h-2zM485 362h4v1h-4zM491 362h6v1h-6zM498 362h2v1h-2zM501 362h2v1h-2zM509 362h2v1h-2zM475 363h1v1h-1zM485 363h4v1h-4zM491 363h6v1h-6zM498 363h2v1h-2zM501 363h3v1h-3zM509 363h2v1h-2zM517 363h1v1h-1zM485 364h2v1h-2zM493 364h4v1h-4zM498 364h7v1h-7zM506 364h2v1h-2zM509 364h3v1h-3zM513 364h1v1h-1zM517 364h2v1h-2zM495 365h2v1h-2zM498 365h1v1h-1zM500 365h4v1h-4zM506 365h9v1h-9zM516 365h3v1h-3zM501 366h3v1h-3zM505 366h10v1h-10zM516 366h5v1h-5zM524 366h2v1h-2zM527 366h2v1h-2zM505 367h1v1h-1zM508 367h1v1h-1zM512 367h10v1h-10zM524 367h5v1h-5zM505 368h1v1h-1zM513 368h4v1h-4zM518 368h11v1h-11zM535 368h2v1h-2zM539 368h2v1h-2zM513 369h3v1h-3zM520 369h5v1h-5zM526 369h4v1h-4zM531 369h6v1h-6zM539 369h4v1h-4zM514 370h1v1h-1zM520 370h5v1h-5zM526 370h4v1h-4zM531 370h7v1h-7zM540 370h5v1h-5zM548 370h2v1h-2zM523 371h2v1h-2zM527 371h2v1h-2zM532 371h7v1h-7zM540 371h6v1h-6zM548 371h4v1h-4zM556 371h1v1h-1zM561 371h2v1h-2zM515 372h1v1h-1zM527 372h1v1h-1zM533 372h4v1h-4zM541 372h5v1h-5zM547 372h5v1h-5zM554 372h4v1h-4zM559 372h1v1h-1zM561 372h2v1h-2zM533 373h2v1h-2zM536 373h1v1h-1zM541 373h5v1h-5zM547 373h6v1h-6zM554 373h6v1h-6zM561 373h5v1h-5zM531 374h1v1h-1zM542 374h3v1h-3zM546 374h2v1h-2zM550 374h10v1h-10zM561 374h6v1h-6zM569 374h3v1h-3zM550 375h4v1h-4zM556 375h3v1h-3zM561 375h6v1h-6zM569 375h4v1h-4zM578 375h1v1h-1zM551 376h2v1h-2zM557 376h2v1h-2zM561 376h6v1h-6zM568 376h5v1h-5zM578 376h2v1h-2zM585 376h2v1h-2zM592 376h2v1h-2zM552 377h1v1h-1zM558 377h1v1h-1zM562 377h1v1h-1zM564 377h3v1h-3zM569 377h12v1h-12zM583 377h1v1h-1zM585 377h3v1h-3zM589 377h2v1h-2zM592 377h2v1h-2zM564 378h2v1h-2zM569 378h26v1h-26zM597 378h1v1h-1zM600 378h2v1h-2zM607 378h1v1h-1zM571 379h3v1h-3zM575 379h14v1h-14zM590 379h12v1h-12zM604 379h2v1h-2zM607 379h2v1h-2zM577 380h6v1h-6zM584 380h5v1h-5zM590 380h12v1h-12zM604 380h2v1h-2zM607 380h2v1h-2zM611 380h1v1h-1zM585 381h3v1h-3zM591 381h5v1h-5zM597 381h9v1h-9zM607 381h2v1h-2zM610 381h2v1h-2zM591 382h1v1h-1zM593 382h2v1h-2zM598 382h4v1h-4zM603 382h6v1h-6zM611 382h2v1h-2zM599 383h1v1h-1zM603 383h2v1h-2zM606 383h2v1h-2zM611 383h4v1h-4zM604 384h1v1h-1zM607 384h1v1h-1zM611 384h4v1h-4zM611 385h1v1h-1z"/>
<path fill="#660033" d="M87 57h2v1h-2zM92 57h2v1h-2zM88 58h2v1h-2zM91 58h3v1h-3zM92 59h3v1h-3zM92 60h4v1h-4zM92 61h4v1h-4zM93 62h2v1h-2zM96 64h2v1h-2zM97 65h2v1h-2zM96 66h3v1h-3zM97 67h3v1h-3zM97 68h2v1h-2zM98 69h1v1h-1zM101 70h1v1h-1zM101 71h3v1h-3zM100 72h4v1h-4zM101 73h4v1h-4zM102 74h3v1h-3zM102 75h2v1h-2zM106 77h2v1h-2zM105 78h3v1h-3zM105 79h3v1h-3zM106 80h3v1h-3zM110 84h1v1h-1zM108 85h4v1h-4zM109 86h4v1h-4zM110 87h3v1h-3zM110 88h3v1h-3zM114 90h1v1h-1zM113 91h3v1h-3zM113 92h3v1h-3zM113 93h4v1h-4zM114 94h3v1h-3zM117 96h2v1h-2zM116 97h3v1h-3zM116 98h3v1h-3zM117 99h2v1h-2zM117 100h3v1h-3zM117 101h3v1h-3zM117 102h3v1h-3zM117 103h3v1h-3zM117 104h3v1h-3zM118 105h3v1h-3zM118 106h3v1h-3zM118 107h3v1h-3zM118 108h3v1h-3zM118 109h3v1h-3zM119 110h3v1h-3zM119 111h3v1h-3zM119 112h3v1h-3zM119 113h2v1h-2zM122 119h1v1h-1zM121 120h3v1h-3zM121 121h3v1h-3zM121 122h1v1h-1zM123 124h2v1h-2zM122 125h3v1h-3zM123 126h3v1h-3zM123 127h3v1h-3zM123 128h3v1h-3zM125 134h3v1h-3zM125 135h2v1h-2zM125 136h2v1h-2zM127 139h3v1h-3zM127 140h3v1h-3zM127 141h3v1h-3zM127 142h3v1h-3zM128 143h2v1h-2zM130 146h2v1h-2zM130 147h2v1h-2zM130 148h3v1h-3zM130 149h2v1h-2zM133 152h1v1h-1zM133 153h2v1h-2zM132 154h3v1h-3zM132 155h3v1h-3zM132 156h3v1h-3zM132 157h3v1h-3zM132 158h4v1h-4zM133 159h3v1h-3zM133 160h3v1h-3zM134 161h2v1h-2zM134 162h3v1h-3zM134 163h3v1h-3zM136 167h3v1h-3zM135 168h4v1h-4zM136 169h3v1h-3zM138 171h3v1h-3zM138 172h3v1h-3zM138 173h3v1h-3zM139 174h2v1h-2zM139 175h2v1h-2zM142 177h1v1h-1zM141 178h2v1h-2zM141 179h3v1h-3zM141 180h3v1h-3zM141 181h3v1h-3zM142 182h2v1h-2zM144 184h2v1h-2zM144 185h3v1h-3zM143 186h4v1h-4zM144 187h3v1h-3zM148 190h1v1h-1zM147 191h3v1h-3zM147 192h3v1h-3zM147 193h3v1h-3zM147 194h1v1h-1zM150 196h2v1h-2zM149 197h3v1h-3zM149 198h3v1h-3zM150 199h3v1h-3zM150 200h3v1h-3zM150 201h2v1h-2zM154 201h1v1h-1zM153 202h3v1h-3zM153 203h3v1h-3zM153 204h3v1h-3zM154 205h3v1h-3zM154 206h1v1h-1zM157 206h1v1h-1zM156 207h4v1h-4zM157 208h3v1h-3zM157 209h4v1h-4zM157 210h4v1h-4zM162 210h1v1h-1zM158 211h6v1h-6zM158 212h2v1h-2zM161 212h3v1h-3zM161 213h4v1h-4zM162 214h2v1h-2zM163 215h1v1h-1zM166 215h1v1h-1zM165 216h3v1h-3zM165 217h3v1h-3zM165 218h4v1h-4zM165 219h4v1h-4zM166 220h3v1h-3zM170 220h2v1h-2zM166 221h7v1h-7zM167 222h6v1h-6zM169 223h5v1h-5zM171 224h1v1h-1zM174 224h1v1h-1zM173 225h2v1h-2zM173 226h3v1h-3zM173 227h3v1h-3zM173 228h4v1h-4zM173 229h4v1h-4zM174 230h3v1h-3zM176 231h4v1h-4zM177 232h3v1h-3zM177 233h3v1h-3zM178 234h2v1h-2zM178 235h2v1h-2zM182 235h1v1h-1zM180 236h3v1h-3zM180 237h3v1h-3zM181 238h3v1h-3zM181 239h3v1h-3zM181 240h2v1h-2zM183 241h4v1h-4zM183 242h4v1h-4zM184 243h4v1h-4zM185 244h1v1h-1zM187 246h3v1h-3zM186 247h4v1h-4zM187 248h3v1h-3zM187 249h2v1h-2zM190 249h3v1h-3zM188 250h1v1h-1zM190 250h3v1h-3zM190 251h4v1h-4zM191 252h3v1h-3zM191 253h2v1h-2zM193 255h3v1h-3zM193 256h4v1h-4zM194 257h3v1h-3zM194 258h3v1h-3zM194 259h3v1h-3zM198 259h1v1h-1zM195 260h1v1h-1zM198 260h2v1h-2zM196 261h4v1h-4zM196 262h4v1h-4zM196 263h5v1h-5zM197 264h2v1h-2zM200 264h2v1h-2zM200 265h3v1h-3zM201 266h3v1h-3zM201 267h3v1h-3zM201 268h3v1h-3zM201 269h2v1h-2zM204 269h2v1h-2zM203 270h3v1h-3zM203 271h4v1h-4zM204 272h3v1h-3zM204 273h3v1h-3zM208 273h1v1h-1zM205 274h1v1h-1zM207 274h3v1h-3zM207 275h3v1h-3zM207 276h2v1h-2zM211 278h2v1h-2zM210 279h3v1h-3zM211 280h2v1h-2zM211 281h1v1h-1zM214 282h2v1h-2zM214 283h2v1h-2zM214 284h2v1h-2zM214 285h2v1h-2zM214 286h3v1h-3zM215 287h4v1h-4zM217 288h3v1h-3zM217 289h4v1h-4zM217 290h4v1h-4zM218 291h6v1h-6zM219 292h1v1h-1zM221 292h3v1h-3zM221 293h2v1h-2zM224 293h2v1h-2zM224 294h2v1h-2zM224 295h3v1h-3zM224 296h3v1h-3zM225 297h3v1h-3zM225 298h2v1h-2zM228 298h2v1h-2zM225 299h2v1h-2zM228 299h2v1h-2zM227 300h4v1h-4zM227 301h4v1h-4zM227 302h4v1h-4zM228 303h2v1h-2zM231 303h3v1h-3zM231 304h3v1h-3zM232 305h2v1h-2zM232 306h2v1h-2zM235 306h1v1h-1zM234 307h4v1h-4zM234 308h4v1h-4zM234 309h4v1h-4zM235 310h3v1h-3zM239 310h1v1h-1zM244 310h1v1h-1zM235 311h3v1h-3zM239 311h2v1h-2zM243 311h3v1h-3zM235 312h2v1h-2zM239 312h2v1h-2zM243 312h3v1h-3zM239 313h8v1h-8zM240 314h2v1h-2zM243 314h4v1h-4zM248 314h1v1h-1zM240 315h1v1h-1zM243 315h6v1h-6zM245 316h9v1h-9zM247 317h8v1h-8zM247 318h4v1h-4zM252 318h3v1h-3zM247 319h2v1h-2zM252 319h3v1h-3zM253 320h2v1h-2zM256 320h2v1h-2zM253 321h2v1h-2zM256 321h3v1h-3zM260 321h2v1h-2zM256 322h7v1h-7zM256 323h7v1h-7zM256 324h7v1h-7zM258 325h7v1h-7zM261 326h2v1h-2zM264 326h2v1h-2zM269 326h1v1h-1zM264 327h2v1h-2zM268 327h3v1h-3zM264 328h3v1h-3zM268 328h4v1h-4zM274 328h1v1h-1zM264 329h8v1h-8zM273 329h3v1h-3zM264 330h2v1h-2zM267 330h10v1h-10zM268 331h8v1h-8zM277 331h3v1h-3zM270 332h1v1h-1zM272 332h8v1h-8zM272 333h9v1h-9zM277 334h3v1h-3zM281 334h4v1h-4zM277 335h3v1h-3zM281 335h4v1h-4zM278 336h1v1h-1zM280 336h5v1h-5zM286 336h2v1h-2zM280 337h4v1h-4zM286 337h2v1h-2zM291 337h1v1h-1zM280 338h3v1h-3zM285 338h3v1h-3zM290 338h2v1h-2zM281 339h1v1h-1zM286 339h2v1h-2zM289 339h4v1h-4zM294 339h2v1h-2zM286 340h7v1h-7zM294 340h2v1h-2zM287 341h1v1h-1zM290 341h1v1h-1zM294 341h2v1h-2zM297 341h2v1h-2zM293 342h3v1h-3zM297 342h3v1h-3zM293 343h4v1h-4zM298 343h3v1h-3zM294 344h3v1h-3zM298 344h3v1h-3zM295 345h1v1h-1zM298 345h3v1h-3zM302 345h2v1h-2zM306 345h2v1h-2zM299 346h9v1h-9zM301 347h8v1h-8zM303 348h2v1h-2zM306 348h3v1h-3zM313 348h2v1h-2zM303 349h1v1h-1zM306 349h3v1h-3zM310 349h2v1h-2zM313 349h3v1h-3zM307 350h5v1h-5zM313 350h3v1h-3zM309 351h3v1h-3zM313 351h3v1h-3zM323 351h1v1h-1zM313 352h3v1h-3zM317 352h3v1h-3zM321 352h3v1h-3zM314 353h2v1h-2zM317 353h8v1h-8zM327 353h2v1h-2zM315 354h1v1h-1zM318 354h11v1h-11zM318 355h2v1h-2zM322 355h9v1h-9zM335 355h1v1h-1zM318 356h2v1h-2zM322 356h6v1h-6zM329 356h3v1h-3zM335 356h2v1h-2zM318 357h2v1h-2zM322 357h1v1h-1zM325 357h3v1h-3zM329 357h4v1h-4zM334 357h3v1h-3zM342 357h2v1h-2zM325 358h3v1h-3zM330 358h2v1h-2zM334 358h3v1h-3zM338 358h1v1h-1zM342 358h2v1h-2zM325 359h3v1h-3zM333 359h2v1h-2zM337 359h2v1h-2zM341 359h3v1h-3zM326 360h1v1h-1zM334 360h1v1h-1zM337 360h3v1h-3zM341 360h4v1h-4zM350 360h2v1h-2zM337 361h7v1h-7zM345 361h2v1h-2zM349 361h3v1h-3zM338 362h2v1h-2zM342 362h1v1h-1zM345 362h3v1h-3zM349 362h2v1h-2zM338 363h2v1h-2zM345 363h6v1h-6zM352 363h2v1h-2zM357 363h2v1h-2zM345 364h2v1h-2zM348 364h2v1h-2zM352 364h4v1h-4zM357 364h2v1h-2zM365 364h2v1h-2zM345 365h2v1h-2zM353 365h3v1h-3zM357 365h3v1h-3zM362 365h1v1h-1zM365 365h3v1h-3zM353 366h3v1h-3zM357 366h10v1h-10zM354 367h9v1h-9zM364 367h3v1h-3zM368 367h3v1h-3zM373 367h2v1h-2zM376 367h1v1h-1zM354 368h2v1h-2zM357 368h6v1h-6zM364 368h2v1h-2zM368 368h3v1h-3zM373 368h4v1h-4zM361 369h2v1h-2zM364 369h2v1h-2zM368 369h3v1h-3zM373 369h5v1h-5zM380 369h3v1h-3zM364 370h2v1h-2zM367 370h7v1h-7zM375 370h8v1h-8zM384 370h2v1h-2zM364 371h2v1h-2zM368 371h1v1h-1zM370 371h4v1h-4zM375 371h11v1h-11zM388 371h2v1h-2zM364 372h2v1h-2zM370 372h4v1h-4zM375 372h3v1h-3zM379 372h7v1h-7zM387 372h3v1h-3zM392 372h2v1h-2zM379 373h2v1h-2zM383 373h3v1h-3zM387 373h7v1h-7zM379 374h2v1h-2zM383 374h3v1h-3zM387 374h7v1h-7zM395 374h2v1h-2zM398 374h3v1h-3zM379 375h2v1h-2zM385 375h1v1h-1zM387 375h3v1h-3zM391 375h3v1h-3zM395 375h6v1h-6zM404 375h4v1h-4zM411 375h2v1h-2zM387 376h2v1h-2zM391 376h3v1h-3zM395 376h6v1h-6zM403 376h5v1h-5zM411 376h2v1h-2zM387 377h2v1h-2zM392 377h2v1h-2zM395 377h5v1h-5zM402 377h7v1h-7zM410 377h4v1h-4zM387 378h2v1h-2zM392 378h6v1h-6zM399 378h1v1h-1zM402 378h3v1h-3zM406 378h8v1h-8zM418 378h3v1h-3zM394 379h3v1h-3zM403 379h2v1h-2zM406 379h11v1h-11zM418 379h3v1h-3zM422 379h1v1h-1zM395 380h1v1h-1zM403 380h1v1h-1zM406 380h3v1h-3zM411 380h1v1h-1zM414 380h10v1h-10zM426 380h1v1h-1zM429 380h2v1h-2zM408 381h1v1h-1zM414 381h10v1h-10zM426 381h2v1h-2zM429 381h2v1h-2zM434 381h1v1h-1zM414 382h5v1h-5zM421 382h4v1h-4zM426 382h2v1h-2zM429 382h2v1h-2zM433 382h3v1h-3zM440 382h2v1h-2zM415 383h4v1h-4zM422 383h3v1h-3zM426 383h6v1h-6zM433 383h3v1h-3zM437 383h2v1h-2zM440 383h4v1h-4zM422 384h3v1h-3zM426 384h2v1h-2zM429 384h3v1h-3zM434 384h2v1h-2zM437 384h3v1h-3zM441 384h3v1h-3zM445 384h1v1h-1zM423 385h1v1h-1zM429 385h3v1h-3zM434 385h2v1h-2zM437 385h3v1h-3zM441 385h7v1h-7zM453 385h1v1h-1zM458 385h2v1h-2zM464 385h2v1h-2zM430 386h2v1h-2zM435 386h5v1h-5zM441 386h7v1h-7zM452 386h3v1h-3zM457 386h5v1h-5zM464 386h2v1h-2zM430 387h1v1h-1zM437 387h3v1h-3zM441 387h10v1h-10zM452 387h4v1h-4zM457 387h5v1h-5zM464 387h2v1h-2zM445 388h18v1h-18zM464 388h4v1h-4zM471 388h5v1h-5zM479 388h4v1h-4zM445 389h3v1h-3zM449 389h3v1h-3zM453 389h23v1h-23zM479 389h4v1h-4zM445 390h2v1h-2zM454 390h1v1h-1zM459 390h5v1h-5zM465 390h11v1h-11zM479 390h4v1h-4zM489 390h1v1h-1zM460 391h3v1h-3zM466 391h5v1h-5zM472 391h3v1h-3zM479 391h3v1h-3zM486 391h5v1h-5zM493 391h2v1h-2zM460 392h2v1h-2zM466 392h5v1h-5zM473 392h2v1h-2zM476 392h2v1h-2zM480 392h1v1h-1zM484 392h7v1h-7zM492 392h3v1h-3zM496 392h2v1h-2zM501 392h4v1h-4zM468 393h3v1h-3zM474 393h1v1h-1zM476 393h2v1h-2zM484 393h22v1h-22zM524 393h1v1h-1zM476 394h3v1h-3zM484 394h7v1h-7zM492 394h14v1h-14zM519 394h2v1h-2zM524 394h2v1h-2zM477 395h1v1h-1zM484 395h3v1h-3zM488 395h1v1h-1zM492 395h3v1h-3zM499 395h7v1h-7zM507 395h2v1h-2zM510 395h4v1h-4zM519 395h2v1h-2zM524 395h2v1h-2zM527 395h1v1h-1zM532 395h2v1h-2zM539 395h3v1h-3zM485 396h2v1h-2zM492 396h2v1h-2zM499 396h6v1h-6zM507 396h3v1h-3zM511 396h6v1h-6zM519 396h3v1h-3zM523 396h5v1h-5zM531 396h3v1h-3zM539 396h3v1h-3zM485 397h1v1h-1zM499 397h4v1h-4zM507 397h3v1h-3zM511 397h7v1h-7zM519 397h3v1h-3zM523 397h3v1h-3zM527 397h2v1h-2zM530 397h7v1h-7zM539 397h3v1h-3zM500 398h3v1h-3zM507 398h3v1h-3zM511 398h14v1h-14zM527 398h2v1h-2zM530 398h8v1h-8zM539 398h3v1h-3zM547 398h1v1h-1zM501 399h2v1h-2zM507 399h2v1h-2zM512 399h2v1h-2zM515 399h3v1h-3zM519 399h2v1h-2zM523 399h2v1h-2zM527 399h2v1h-2zM530 399h3v1h-3zM535 399h6v1h-6zM546 399h5v1h-5zM554 399h2v1h-2zM515 400h2v1h-2zM523 400h2v1h-2zM527 400h2v1h-2zM530 400h3v1h-3zM535 400h5v1h-5zM542 400h2v1h-2zM546 400h5v1h-5zM554 400h2v1h-2zM569 400h2v1h-2zM515 401h2v1h-2zM524 401h1v1h-1zM528 401h1v1h-1zM530 401h3v1h-3zM536 401h4v1h-4zM542 401h3v1h-3zM546 401h5v1h-5zM554 401h3v1h-3zM558 401h1v1h-1zM562 401h1v1h-1zM569 401h3v1h-3zM531 402h1v1h-1zM538 402h2v1h-2zM542 402h3v1h-3zM546 402h3v1h-3zM550 402h3v1h-3zM554 402h5v1h-5zM561 402h3v1h-3zM569 402h4v1h-4zM574 402h2v1h-2zM577 402h3v1h-3zM538 403h2v1h-2zM543 403h2v1h-2zM546 403h2v1h-2zM550 403h3v1h-3zM554 403h10v1h-10zM567 403h6v1h-6zM574 403h2v1h-2zM577 403h6v1h-6zM585 403h1v1h-1zM545 404h2v1h-2zM551 404h2v1h-2zM555 404h10v1h-10zM566 404h10v1h-10zM577 404h6v1h-6zM585 404h2v1h-2zM556 405h8v1h-8zM565 405h11v1h-11zM578 405h5v1h-5zM585 405h2v1h-2zM593 405h2v1h-2zM600 405h2v1h-2zM559 406h4v1h-4zM566 406h3v1h-3zM571 406h1v1h-1zM574 406h2v1h-2zM578 406h2v1h-2zM581 406h3v1h-3zM585 406h4v1h-4zM590 406h2v1h-2zM593 406h3v1h-3zM600 406h3v1h-3zM610 406h2v1h-2zM559 407h4v1h-4zM566 407h3v1h-3zM575 407h2v1h-2zM578 407h2v1h-2zM581 407h3v1h-3zM585 407h3v1h-3zM589 407h3v1h-3zM593 407h3v1h-3zM600 407h3v1h-3zM609 407h3v1h-3zM567 408h1v1h-1zM575 408h2v1h-2zM578 408h1v1h-1zM581 408h3v1h-3zM586 408h2v1h-2zM589 408h3v1h-3zM593 408h3v1h-3zM600 408h12v1h-12zM575 409h1v1h-1zM581 409h4v1h-4zM589 409h2v1h-2zM594 409h18v1h-18zM613 409h2v1h-2zM582 410h1v1h-1zM596 410h4v1h-4zM601 410h6v1h-6zM609 410h6v1h-6zM596 411h4v1h-4zM602 411h1v1h-1zM605 411h2v1h-2zM609 411h2v1h-2zM612 411h4v1h-4zM597 412h2v1h-2zM609 412h2v1h-2zM612 412h4v1h-4zM613 413h3v1h-3zM613 414h2v1h-2z"/>
<path fill="#ff80ff" d="M90 48h1v1h-1zM88 49h4v1h-4zM87 50h7v1h-7zM88 51h5v1h-5zM98 51h1v1h-1zM89 52h4v1h-4zM97 52h3v1h-3zM97 53h4v1h-4zM97 54h5v1h-5zM99 55h3v1h-3zM101 56h3v1h-3zM102 57h2v1h-2zM103 58h3v1h-3zM103 59h4v1h-4zM104 60h4v1h-4zM104 61h4v1h-4zM105 62h3v1h-3zM106 63h3v1h-3zM111 66h1v1h-1zM111 67h2v1h-2zM110 68h5v1h-5zM111 69h5v1h-5zM111 70h5v1h-5zM113 71h4v1h-4zM114 72h4v1h-4zM114 73h5v1h-5zM116 74h4v1h-4zM117 75h3v1h-3zM117 76h3v1h-3zM118 77h2v1h-2zM122 80h3v1h-3zM122 81h4v1h-4zM122 82h4v1h-4zM123 83h4v1h-4zM124 84h3v1h-3zM124 85h5v1h-5zM125 86h5v1h-5zM126 87h4v1h-4zM126 88h5v1h-5zM128 89h4v1h-4zM128 90h3v1h-3zM129 91h2v1h-2zM135 95h2v1h-2zM134 96h5v1h-5zM134 97h5v1h-5zM136 98h4v1h-4zM136 99h5v1h-5zM137 100h4v1h-4zM138 101h5v1h-5zM139 102h4v1h-4zM139 103h4v1h-4zM140 104h2v1h-2zM143 106h2v1h-2zM142 107h3v1h-3zM143 108h3v1h-3zM143 109h3v1h-3zM143 110h4v1h-4zM144 111h3v1h-3zM144 112h4v1h-4zM144 113h5v1h-5zM145 114h5v1h-5zM146 115h5v1h-5zM147 116h4v1h-4zM149 117h3v1h-3zM149 118h1v1h-1zM152 120h2v1h-2zM152 121h3v1h-3zM152 122h4v1h-4zM153 123h4v1h-4zM153 124h4v1h-4zM153 125h4v1h-4zM154 126h3v1h-3zM155 127h4v1h-4zM155 128h5v1h-5zM156 129h5v1h-5zM158 130h2v1h-2zM162 133h2v1h-2zM162 134h3v1h-3zM162 135h4v1h-4zM162 136h5v1h-5zM162 137h6v1h-6zM164 138h5v1h-5zM165 139h4v1h-4zM166 140h4v1h-4zM167 141h3v1h-3zM168 142h2v1h-2zM168 143h3v1h-3zM173 145h2v1h-2zM172 146h4v1h-4zM172 147h4v1h-4zM172 148h5v1h-5zM173 149h4v1h-4zM174 150h4v1h-4zM175 151h3v1h-3zM175 152h3v1h-3zM175 153h3v1h-3zM175 154h3v1h-3zM176 155h1v1h-1zM180 159h3v1h-3zM179 160h4v1h-4zM179 161h4v1h-4zM179 162h4v1h-4zM181 163h3v1h-3zM181 164h3v1h-3zM182 165h3v1h-3zM182 166h3v1h-3zM183 167h3v1h-3zM183 168h2v1h-2zM184 169h1v1h-1zM187 173h2v1h-2zM186 174h5v1h-5zM186 175h5v1h-5zM186 176h5v1h-5zM187 177h5v1h-5zM188 178h4v1h-4zM189 179h4v1h-4zM190 180h3v1h-3zM190 181h1v1h-1zM192 184h3v1h-3zM192 185h3v1h-3zM193 186h4v1h-4zM193 187h5v1h-5zM193 188h5v1h-5zM194 189h4v1h-4zM194 190h5v1h-5zM196 191h3v1h-3zM196 192h2v1h-2zM199 196h3v1h-3zM199 197h3v1h-3zM199 198h4v1h-4zM199 199h4v1h-4zM200 200h3v1h-3zM201 201h3v1h-3zM202 202h3v1h-3zM202 203h4v1h-4zM202 204h3v1h-3zM203 205h1v1h-1zM208 209h1v1h-1zM207 210h3v1h-3zM206 211h4v1h-4zM207 212h4v1h-4zM208 213h4v1h-4zM209 214h4v1h-4zM209 215h4v1h-4zM214 221h2v1h-2zM214 222h3v1h-3zM214 223h4v1h-4zM214 224h6v1h-6zM215 225h6v1h-6zM216 226h5v1h-5zM216 227h5v1h-5zM217 228h2v1h-2zM222 230h2v1h-2zM222 231h2v1h-2zM222 232h2v1h-2zM222 233h2v1h-2zM226 233h1v1h-1zM222 234h6v1h-6zM223 235h5v1h-5zM223 236h5v1h-5zM224 237h5v1h-5zM226 238h3v1h-3zM231 240h1v1h-1zM230 241h3v1h-3zM230 242h3v1h-3zM230 243h3v1h-3zM231 244h5v1h-5zM231 245h6v1h-6zM231 246h6v1h-6zM235 247h2v1h-2zM241 252h2v1h-2zM239 253h4v1h-4zM239 254h5v1h-5zM239 255h6v1h-6zM241 256h4v1h-4zM241 257h4v1h-4zM247 259h1v1h-1zM247 260h1v1h-1zM246 261h5v1h-5zM246 262h6v1h-6zM246 263h6v1h-6zM247 264h6v1h-6zM247 265h7v1h-7zM248 266h4v1h-4zM256 267h2v1h-2zM256 268h2v1h-2zM255 269h3v1h-3zM255 270h4v1h-4zM255 271h5v1h-5zM255 272h5v1h-5zM256 273h1v1h-1zM258 273h3v1h-3zM258 274h3v1h-3zM259 275h2v1h-2zM259 276h3v1h-3zM259 277h3v1h-3zM260 278h2v1h-2zM265 279h3v1h-3zM264 280h4v1h-4zM263 281h5v1h-5zM264 282h5v1h-5zM265 283h4v1h-4zM267 284h2v1h-2zM267 285h2v1h-2zM271 285h2v1h-2zM267 286h2v1h-2zM271 286h2v1h-2zM271 287h2v1h-2zM271 288h5v1h-5zM271 289h6v1h-6zM272 290h6v1h-6zM273 291h5v1h-5zM273 292h5v1h-5zM276 293h3v1h-3zM280 293h2v1h-2zM276 294h2v1h-2zM279 294h4v1h-4zM276 295h2v1h-2zM280 295h4v1h-4zM280 296h4v1h-4zM282 297h3v1h-3zM282 298h3v1h-3zM282 299h4v1h-4zM282 300h5v1h-5zM282 301h5v1h-5zM288 301h2v1h-2zM284 302h3v1h-3zM288 302h2v1h-2zM284 303h2v1h-2zM288 303h2v1h-2zM291 303h2v1h-2zM288 304h5v1h-5zM289 305h4v1h-4zM294 305h1v1h-1zM289 306h6v1h-6zM291 307h4v1h-4zM291 308h4v1h-4zM297 308h2v1h-2zM292 309h3v1h-3zM297 309h4v1h-4zM303 309h1v1h-1zM297 310h7v1h-7zM298 311h7v1h-7zM298 312h7v1h-7zM298 313h6v1h-6zM309 313h2v1h-2zM307 314h5v1h-5zM307 315h5v1h-5zM307 316h8v1h-8zM308 317h7v1h-7zM311 318h4v1h-4zM321 318h1v1h-1zM313 319h2v1h-2zM317 319h5v1h-5zM313 320h2v1h-2zM317 320h5v1h-5zM318 321h6v1h-6zM327 321h1v1h-1zM320 322h4v1h-4zM326 322h4v1h-4zM321 323h4v1h-4zM326 323h4v1h-4zM322 324h3v1h-3zM327 324h3v1h-3zM332 324h1v1h-1zM322 325h3v1h-3zM328 325h3v1h-3zM332 325h2v1h-2zM328 326h6v1h-6zM338 326h1v1h-1zM328 327h5v1h-5zM336 327h4v1h-4zM329 328h4v1h-4zM335 328h5v1h-5zM341 328h2v1h-2zM331 329h2v1h-2zM336 329h7v1h-7zM332 330h1v1h-1zM337 330h6v1h-6zM345 330h2v1h-2zM337 331h6v1h-6zM345 331h7v1h-7zM337 332h1v1h-1zM339 332h4v1h-4zM345 332h7v1h-7zM339 333h2v1h-2zM346 333h6v1h-6zM356 333h2v1h-2zM346 334h7v1h-7zM355 334h3v1h-3zM346 335h5v1h-5zM354 335h6v1h-6zM365 335h1v1h-1zM346 336h2v1h-2zM349 336h2v1h-2zM354 336h7v1h-7zM364 336h3v1h-3zM346 337h2v1h-2zM354 337h7v1h-7zM364 337h3v1h-3zM369 337h2v1h-2zM373 337h2v1h-2zM354 338h2v1h-2zM357 338h4v1h-4zM364 338h7v1h-7zM373 338h2v1h-2zM379 338h1v1h-1zM358 339h4v1h-4zM363 339h2v1h-2zM366 339h6v1h-6zM373 339h3v1h-3zM378 339h3v1h-3zM360 340h1v1h-1zM367 340h5v1h-5zM373 340h4v1h-4zM378 340h3v1h-3zM367 341h4v1h-4zM372 341h5v1h-5zM378 341h3v1h-3zM387 341h2v1h-2zM368 342h2v1h-2zM373 342h8v1h-8zM383 342h1v1h-1zM387 342h2v1h-2zM368 343h1v1h-1zM373 343h8v1h-8zM382 343h2v1h-2zM385 343h5v1h-5zM393 343h3v1h-3zM374 344h5v1h-5zM383 344h7v1h-7zM392 344h6v1h-6zM375 345h3v1h-3zM383 345h4v1h-4zM388 345h2v1h-2zM392 345h7v1h-7zM402 345h2v1h-2zM383 346h3v1h-3zM388 346h2v1h-2zM392 346h7v1h-7zM401 346h4v1h-4zM384 347h2v1h-2zM394 347h4v1h-4zM401 347h4v1h-4zM406 347h1v1h-1zM384 348h1v1h-1zM395 348h3v1h-3zM402 348h6v1h-6zM412 348h1v1h-1zM395 349h3v1h-3zM404 349h5v1h-5zM411 349h3v1h-3zM416 349h2v1h-2zM396 350h1v1h-1zM404 350h5v1h-5zM411 350h3v1h-3zM416 350h2v1h-2zM404 351h3v1h-3zM411 351h3v1h-3zM416 351h2v1h-2zM426 351h1v1h-1zM431 351h1v1h-1zM404 352h2v1h-2zM411 352h8v1h-8zM423 352h4v1h-4zM430 352h3v1h-3zM411 353h6v1h-6zM421 353h7v1h-7zM430 353h3v1h-3zM441 353h1v1h-1zM411 354h6v1h-6zM420 354h8v1h-8zM430 354h6v1h-6zM438 354h4v1h-4zM413 355h3v1h-3zM420 355h7v1h-7zM430 355h7v1h-7zM438 355h5v1h-5zM445 355h2v1h-2zM414 356h2v1h-2zM420 356h2v1h-2zM424 356h2v1h-2zM430 356h7v1h-7zM439 356h8v1h-8zM429 357h2v1h-2zM432 357h5v1h-5zM439 357h8v1h-8zM449 357h1v1h-1zM432 358h4v1h-4zM439 358h7v1h-7zM448 358h3v1h-3zM454 358h2v1h-2zM459 358h1v1h-1zM461 358h2v1h-2zM468 358h2v1h-2zM434 359h1v1h-1zM442 359h4v1h-4zM449 359h7v1h-7zM458 359h8v1h-8zM468 359h2v1h-2zM442 360h4v1h-4zM449 360h7v1h-7zM458 360h8v1h-8zM468 360h3v1h-3zM444 361h1v1h-1zM449 361h7v1h-7zM458 361h8v1h-8zM467 361h4v1h-4zM472 361h3v1h-3zM450 362h3v1h-3zM459 362h7v1h-7zM467 362h8v1h-8zM478 362h3v1h-3zM483 362h2v1h-2zM451 363h1v1h-1zM459 363h2v1h-2zM463 363h3v1h-3zM468 363h1v1h-1zM470 363h5v1h-5zM477 363h8v1h-8zM460 364h1v1h-1zM464 364h2v1h-2zM470 364h5v1h-5zM477 364h8v1h-8zM491 364h2v1h-2zM471 365h2v1h-2zM477 365h8v1h-8zM487 365h2v1h-2zM491 365h3v1h-3zM499 365h1v1h-1zM472 366h1v1h-1zM477 366h2v1h-2zM480 366h5v1h-5zM487 366h2v1h-2zM491 366h3v1h-3zM498 366h3v1h-3zM480 367h5v1h-5zM486 367h3v1h-3zM491 367h2v1h-2zM496 367h6v1h-6zM506 367h2v1h-2zM480 368h5v1h-5zM486 368h7v1h-7zM496 368h7v1h-7zM506 368h5v1h-5zM517 368h1v1h-1zM481 369h2v1h-2zM487 369h5v1h-5zM496 369h7v1h-7zM505 369h6v1h-6zM516 369h3v1h-3zM487 370h2v1h-2zM490 370h1v1h-1zM496 370h7v1h-7zM505 370h7v1h-7zM515 370h4v1h-4zM496 371h7v1h-7zM507 371h6v1h-6zM515 371h4v1h-4zM520 371h3v1h-3zM525 371h2v1h-2zM529 371h3v1h-3zM499 372h2v1h-2zM509 372h4v1h-4zM516 372h7v1h-7zM524 372h3v1h-3zM528 372h4v1h-4zM537 372h4v1h-4zM510 373h3v1h-3zM517 373h6v1h-6zM524 373h8v1h-8zM535 373h1v1h-1zM537 373h4v1h-4zM517 374h5v1h-5zM525 374h6v1h-6zM534 374h8v1h-8zM545 374h1v1h-1zM548 374h2v1h-2zM517 375h5v1h-5zM526 375h5v1h-5zM534 375h8v1h-8zM544 375h6v1h-6zM559 375h2v1h-2zM520 376h2v1h-2zM529 376h2v1h-2zM534 376h8v1h-8zM544 376h7v1h-7zM553 376h2v1h-2zM559 376h2v1h-2zM567 376h1v1h-1zM520 377h2v1h-2zM535 377h7v1h-7zM544 377h7v1h-7zM553 377h2v1h-2zM557 377h1v1h-1zM559 377h2v1h-2zM563 377h1v1h-1zM567 377h2v1h-2zM535 378h2v1h-2zM539 378h3v1h-3zM544 378h7v1h-7zM553 378h2v1h-2zM556 378h5v1h-5zM562 378h2v1h-2zM566 378h3v1h-3zM544 379h4v1h-4zM549 379h2v1h-2zM553 379h8v1h-8zM562 379h9v1h-9zM574 379h1v1h-1zM543 380h2v1h-2zM554 380h6v1h-6zM562 380h8v1h-8zM574 380h3v1h-3zM583 380h1v1h-1zM557 381h3v1h-3zM563 381h7v1h-7zM573 381h4v1h-4zM582 381h3v1h-3zM557 382h3v1h-3zM564 382h4v1h-4zM573 382h7v1h-7zM582 382h3v1h-3zM587 382h2v1h-2zM592 382h1v1h-1zM558 383h1v1h-1zM565 383h3v1h-3zM572 383h8v1h-8zM581 383h8v1h-8zM591 383h4v1h-4zM597 383h2v1h-2zM605 383h1v1h-1zM565 384h3v1h-3zM572 384h3v1h-3zM576 384h4v1h-4zM581 384h8v1h-8zM591 384h8v1h-8zM602 384h2v1h-2zM605 384h2v1h-2zM566 385h2v1h-2zM572 385h3v1h-3zM576 385h4v1h-4zM581 385h2v1h-2zM584 385h6v1h-6zM591 385h8v1h-8zM602 385h6v1h-6zM612 385h2v1h-2zM573 386h1v1h-1zM578 386h2v1h-2zM582 386h1v1h-1zM586 386h3v1h-3zM591 386h8v1h-8zM601 386h8v1h-8zM612 386h2v1h-2zM586 387h3v1h-3zM592 387h7v1h-7zM601 387h8v1h-8zM610 387h5v1h-5zM594 388h4v1h-4zM601 388h7v1h-7zM611 388h4v1h-4zM597 389h1v1h-1zM602 389h1v1h-1zM606 389h2v1h-2zM611 389h5v1h-5zM611 390h2v1h-2zM614 390h1v1h-1z"/>
<path fill="#ef8328" d="M90 54h2v1h-2zM88 55h5v1h-5zM97 55h2v1h-2zM88 56h5v1h-5zM96 56h5v1h-5zM89 57h3v1h-3zM97 57h5v1h-5zM90 58h1v1h-1zM98 58h5v1h-5zM99 59h4v1h-4zM100 60h4v1h-4zM101 61h3v1h-3zM101 62h2v1h-2zM102 63h1v1h-1zM106 66h3v1h-3zM106 67h3v1h-3zM106 68h4v1h-4zM106 69h4v1h-4zM107 70h4v1h-4zM108 71h3v1h-3zM108 72h4v1h-4zM108 73h3v1h-3zM115 78h2v1h-2zM114 79h3v1h-3zM114 80h3v1h-3zM115 81h3v1h-3zM115 82h4v1h-4zM116 83h3v1h-3zM116 84h3v1h-3zM117 85h1v1h-1zM121 90h1v1h-1zM119 91h3v1h-3zM119 92h3v1h-3zM120 93h3v1h-3zM120 94h3v1h-3zM120 95h3v1h-3zM120 96h3v1h-3zM123 104h3v1h-3zM123 105h3v1h-3zM123 106h3v1h-3zM123 107h3v1h-3zM123 108h3v1h-3zM124 109h2v1h-2zM125 116h3v1h-3zM126 117h3v1h-3zM126 118h3v1h-3zM126 119h3v1h-3zM126 120h3v1h-3zM127 121h3v1h-3zM127 122h3v1h-3zM127 123h1v1h-1zM129 130h3v1h-3zM129 131h3v1h-3zM129 132h3v1h-3zM129 133h3v1h-3zM132 143h2v1h-2zM132 144h3v1h-3zM132 145h3v1h-3zM132 146h4v1h-4zM133 147h3v1h-3zM133 148h3v1h-3zM133 149h1v1h-1zM137 154h1v1h-1zM136 155h3v1h-3zM136 156h3v1h-3zM136 157h3v1h-3zM137 158h3v1h-3zM137 159h3v1h-3zM137 160h3v1h-3zM141 166h2v1h-2zM140 167h3v1h-3zM141 168h3v1h-3zM141 169h3v1h-3zM142 170h3v1h-3zM142 171h2v1h-2zM147 177h1v1h-1zM145 178h3v1h-3zM146 179h3v1h-3zM146 180h5v1h-5zM147 181h4v1h-4zM147 182h3v1h-3zM147 183h3v1h-3zM152 187h3v1h-3zM152 188h4v1h-4zM153 189h3v1h-3zM153 190h4v1h-4zM154 191h3v1h-3zM154 192h4v1h-4zM156 193h1v1h-1zM159 196h3v1h-3zM159 197h4v1h-4zM160 198h3v1h-3zM160 199h4v1h-4zM161 200h3v1h-3zM161 201h4v1h-4zM168 205h1v1h-1zM167 206h3v1h-3zM167 207h4v1h-4zM168 208h4v1h-4zM168 209h4v1h-4zM168 210h5v1h-5zM170 211h3v1h-3zM170 212h3v1h-3zM175 214h2v1h-2zM175 215h3v1h-3zM174 216h4v1h-4zM175 217h4v1h-4zM176 218h4v1h-4zM176 219h3v1h-3zM178 220h1v1h-1zM182 222h1v1h-1zM181 223h3v1h-3zM181 224h4v1h-4zM182 225h3v1h-3zM182 226h3v1h-3zM183 227h3v1h-3zM183 228h3v1h-3zM183 229h2v1h-2zM184 230h2v1h-2zM187 231h2v1h-2zM187 232h3v1h-3zM187 233h3v1h-3zM187 234h4v1h-4zM187 235h5v1h-5zM188 236h4v1h-4zM189 237h3v1h-3zM189 238h3v1h-3zM193 240h3v1h-3zM193 241h3v1h-3zM193 242h4v1h-4zM193 243h5v1h-5zM194 244h4v1h-4zM195 245h4v1h-4zM196 246h1v1h-1zM200 250h2v1h-2zM200 251h3v1h-3zM200 252h4v1h-4zM200 253h5v1h-5zM202 254h2v1h-2zM208 256h3v1h-3zM208 257h3v1h-3zM207 258h4v1h-4zM208 259h4v1h-4zM208 260h4v1h-4zM209 261h3v1h-3zM210 262h2v1h-2zM214 265h2v1h-2zM213 266h5v1h-5zM214 267h5v1h-5zM214 268h5v1h-5zM215 269h4v1h-4zM215 270h3v1h-3zM216 271h2v1h-2zM221 272h1v1h-1zM219 273h4v1h-4zM220 274h3v1h-3zM221 275h3v1h-3zM222 276h2v1h-2zM222 277h3v1h-3zM222 278h3v1h-3zM223 279h1v1h-1zM227 279h2v1h-2zM226 280h3v1h-3zM227 281h3v1h-3zM227 282h4v1h-4zM228 283h3v1h-3zM229 284h3v1h-3zM229 285h3v1h-3zM233 285h3v1h-3zM230 286h2v1h-2zM233 286h4v1h-4zM234 287h4v1h-4zM234 288h4v1h-4zM235 289h3v1h-3zM236 290h2v1h-2zM236 291h3v1h-3zM242 291h1v1h-1zM236 292h3v1h-3zM241 292h2v1h-2zM241 293h3v1h-3zM241 294h4v1h-4zM241 295h5v1h-5zM242 296h4v1h-4zM244 297h2v1h-2zM249 297h1v1h-1zM249 298h2v1h-2zM248 299h3v1h-3zM249 300h2v1h-2zM249 301h3v1h-3zM249 302h4v1h-4zM250 303h3v1h-3zM251 304h1v1h-1zM256 304h1v1h-1zM254 305h4v1h-4zM255 306h6v1h-6zM255 307h6v1h-6zM257 308h4v1h-4zM264 308h1v1h-1zM258 309h3v1h-3zM262 309h4v1h-4zM263 310h4v1h-4zM263 311h4v1h-4zM264 312h4v1h-4zM271 312h3v1h-3zM265 313h3v1h-3zM270 313h5v1h-5zM266 314h2v1h-2zM271 314h5v1h-5zM267 315h1v1h-1zM271 315h6v1h-6zM273 316h3v1h-3zM278 316h3v1h-3zM274 317h1v1h-1zM278 317h3v1h-3zM278 318h5v1h-5zM279 319h4v1h-4zM281 320h2v1h-2zM281 321h2v1h-2zM285 321h4v1h-4zM281 322h2v1h-2zM285 322h4v1h-4zM285 323h4v1h-4zM286 324h4v1h-4zM287 325h4v1h-4zM287 326h4v1h-4zM293 326h3v1h-3zM293 327h5v1h-5zM293 328h5v1h-5zM301 328h1v1h-1zM294 329h1v1h-1zM296 329h3v1h-3zM300 329h3v1h-3zM300 330h5v1h-5zM301 331h5v1h-5zM309 331h2v1h-2zM303 332h2v1h-2zM308 332h4v1h-4zM303 333h2v1h-2zM309 333h5v1h-5zM309 334h5v1h-5zM315 334h4v1h-4zM309 335h5v1h-5zM316 335h4v1h-4zM324 335h1v1h-1zM310 336h4v1h-4zM318 336h2v1h-2zM323 336h3v1h-3zM318 337h3v1h-3zM323 337h3v1h-3zM318 338h3v1h-3zM323 338h4v1h-4zM319 339h2v1h-2zM324 339h3v1h-3zM331 339h1v1h-1zM325 340h3v1h-3zM330 340h3v1h-3zM326 341h2v1h-2zM330 341h5v1h-5zM339 341h1v1h-1zM331 342h4v1h-4zM338 342h3v1h-3zM333 343h2v1h-2zM338 343h3v1h-3zM338 344h4v1h-4zM346 344h2v1h-2zM337 345h5v1h-5zM346 345h2v1h-2zM337 346h2v1h-2zM346 346h4v1h-4zM338 347h1v1h-1zM345 347h5v1h-5zM353 347h2v1h-2zM344 348h6v1h-6zM353 348h4v1h-4zM361 348h2v1h-2zM344 349h6v1h-6zM352 349h5v1h-5zM360 349h3v1h-3zM345 350h1v1h-1zM352 350h4v1h-4zM360 350h4v1h-4zM369 350h1v1h-1zM352 351h4v1h-4zM360 351h4v1h-4zM369 351h2v1h-2zM352 352h2v1h-2zM359 352h4v1h-4zM367 352h3v1h-3zM360 353h2v1h-2zM366 353h4v1h-4zM376 353h1v1h-1zM366 354h3v1h-3zM375 354h3v1h-3zM366 355h2v1h-2zM373 355h4v1h-4zM380 355h2v1h-2zM373 356h3v1h-3zM380 356h3v1h-3zM384 356h1v1h-1zM388 356h2v1h-2zM374 357h1v1h-1zM380 357h5v1h-5zM388 357h3v1h-3zM394 357h2v1h-2zM381 358h4v1h-4zM387 358h4v1h-4zM394 358h2v1h-2zM381 359h4v1h-4zM387 359h5v1h-5zM394 359h2v1h-2zM382 360h2v1h-2zM388 360h1v1h-1zM390 360h2v1h-2zM394 360h5v1h-5zM403 360h1v1h-1zM390 361h1v1h-1zM393 361h6v1h-6zM401 361h4v1h-4zM395 362h4v1h-4zM401 362h4v1h-4zM396 363h3v1h-3zM401 363h5v1h-5zM408 363h4v1h-4zM415 363h2v1h-2zM397 364h3v1h-3zM402 364h4v1h-4zM407 364h6v1h-6zM415 364h2v1h-2zM402 365h1v1h-1zM404 365h1v1h-1zM409 365h4v1h-4zM415 365h2v1h-2zM411 366h2v1h-2zM416 366h2v1h-2zM419 366h2v1h-2zM422 366h5v1h-5zM430 366h2v1h-2zM411 367h2v1h-2zM416 367h4v1h-4zM422 367h5v1h-5zM429 367h4v1h-4zM437 367h2v1h-2zM416 368h4v1h-4zM423 368h4v1h-4zM430 368h3v1h-3zM437 368h2v1h-2zM418 369h2v1h-2zM423 369h4v1h-4zM430 369h3v1h-3zM437 369h3v1h-3zM426 370h1v1h-1zM430 370h4v1h-4zM437 370h3v1h-3zM445 370h4v1h-4zM452 370h1v1h-1zM432 371h2v1h-2zM438 371h2v1h-2zM444 371h5v1h-5zM452 371h3v1h-3zM432 372h1v1h-1zM439 372h2v1h-2zM444 372h4v1h-4zM451 372h5v1h-5zM461 372h2v1h-2zM439 373h2v1h-2zM443 373h5v1h-5zM451 373h5v1h-5zM459 373h4v1h-4zM467 373h2v1h-2zM443 374h3v1h-3zM450 374h6v1h-6zM459 374h4v1h-4zM467 374h2v1h-2zM443 375h2v1h-2zM450 375h2v1h-2zM454 375h2v1h-2zM458 375h4v1h-4zM466 375h4v1h-4zM475 375h2v1h-2zM444 376h1v1h-1zM458 376h2v1h-2zM466 376h4v1h-4zM474 376h3v1h-3zM482 376h1v1h-1zM458 377h2v1h-2zM465 377h5v1h-5zM474 377h2v1h-2zM482 377h2v1h-2zM490 377h1v1h-1zM465 378h5v1h-5zM473 378h3v1h-3zM480 378h4v1h-4zM487 378h4v1h-4zM465 379h2v1h-2zM473 379h2v1h-2zM479 379h4v1h-4zM487 379h4v1h-4zM495 379h1v1h-1zM473 380h2v1h-2zM479 380h4v1h-4zM487 380h4v1h-4zM494 380h5v1h-5zM480 381h3v1h-3zM487 381h4v1h-4zM494 381h4v1h-4zM501 381h2v1h-2zM504 381h1v1h-1zM508 381h3v1h-3zM481 382h2v1h-2zM487 382h4v1h-4zM494 382h4v1h-4zM501 382h4v1h-4zM508 382h3v1h-3zM487 383h2v1h-2zM494 383h4v1h-4zM502 383h4v1h-4zM507 383h5v1h-5zM515 383h3v1h-3zM524 383h1v1h-1zM502 384h4v1h-4zM509 384h4v1h-4zM515 384h5v1h-5zM524 384h3v1h-3zM529 384h2v1h-2zM538 384h1v1h-1zM504 385h2v1h-2zM509 385h4v1h-4zM515 385h6v1h-6zM522 385h5v1h-5zM529 385h5v1h-5zM536 385h3v1h-3zM504 386h1v1h-1zM509 386h4v1h-4zM516 386h4v1h-4zM522 386h6v1h-6zM529 386h5v1h-5zM536 386h3v1h-3zM540 386h2v1h-2zM545 386h2v1h-2zM552 386h1v1h-1zM511 387h2v1h-2zM517 387h3v1h-3zM523 387h5v1h-5zM530 387h4v1h-4zM536 387h6v1h-6zM544 387h4v1h-4zM551 387h3v1h-3zM518 388h2v1h-2zM524 388h3v1h-3zM530 388h4v1h-4zM537 388h5v1h-5zM544 388h4v1h-4zM551 388h3v1h-3zM559 388h2v1h-2zM566 388h2v1h-2zM574 388h1v1h-1zM537 389h5v1h-5zM545 389h3v1h-3zM552 389h3v1h-3zM558 389h4v1h-4zM566 389h4v1h-4zM573 389h2v1h-2zM580 389h2v1h-2zM545 390h3v1h-3zM553 390h2v1h-2zM559 390h3v1h-3zM566 390h5v1h-5zM573 390h5v1h-5zM580 390h2v1h-2zM588 390h2v1h-2zM547 391h2v1h-2zM553 391h3v1h-3zM560 391h4v1h-4zM566 391h5v1h-5zM573 391h5v1h-5zM580 391h5v1h-5zM588 391h3v1h-3zM596 391h2v1h-2zM554 392h3v1h-3zM560 392h4v1h-4zM565 392h6v1h-6zM573 392h5v1h-5zM580 392h5v1h-5zM588 392h4v1h-4zM596 392h3v1h-3zM554 393h2v1h-2zM561 393h2v1h-2zM566 393h1v1h-1zM568 393h3v1h-3zM572 393h2v1h-2zM575 393h3v1h-3zM579 393h5v1h-5zM588 393h4v1h-4zM596 393h3v1h-3zM603 393h2v1h-2zM562 394h1v1h-1zM568 394h2v1h-2zM572 394h2v1h-2zM576 394h2v1h-2zM581 394h1v1h-1zM588 394h4v1h-4zM595 394h4v1h-4zM603 394h3v1h-3zM611 394h1v1h-1zM572 395h2v1h-2zM587 395h2v1h-2zM591 395h1v1h-1zM594 395h5v1h-5zM602 395h5v1h-5zM610 395h3v1h-3zM587 396h2v1h-2zM595 396h1v1h-1zM601 396h6v1h-6zM609 396h5v1h-5zM602 397h2v1h-2zM605 397h2v1h-2zM609 397h5v1h-5zM602 398h2v1h-2zM609 398h2v1h-2zM612 398h2v1h-2zM610 399h1v1h-1z"/>
</g>
<g style="font-family:'Liberation Serif','Times New Roman',serif;font-size:61px" fill="#000" stroke="#fff" stroke-width="1">
<text x="247" y="1473.4" text-anchor="end" textLength="91" lengthAdjust="spacingAndGlyphs">200</text>
<text x="247" y="1273.7" text-anchor="end" textLength="91" lengthAdjust="spacingAndGlyphs">300</text>
<text x="247" y="1074.1" text-anchor="end" textLength="91" lengthAdjust="spacingAndGlyphs">400</text>
<text x="247" y="874.5" text-anchor="end" textLength="91" lengthAdjust="spacingAndGlyphs">500</text>
<text x="247" y="674.8" text-anchor="end" textLength="91" lengthAdjust="spacingAndGlyphs">600</text>
<text x="247" y="475.2" text-anchor="end" textLength="91" lengthAdjust="spacingAndGlyphs">700</text>
<text x="247" y="275.5" text-anchor="end" textLength="91" lengthAdjust="spacingAndGlyphs">800</text>
<text x="247" y="72.5" text-anchor="end" textLength="91" lengthAdjust="spacingAndGlyphs">900</text>
<text x="292.5" y="1549.5" text-anchor="middle">0</text>
<text x="640.0" y="1549.5" text-anchor="middle">2</text>
<text x="987.5" y="1549.5" text-anchor="middle">4</text>
<text x="1335.0" y="1549.5" text-anchor="middle">6</text>
<text x="1682.5" y="1549.5" text-anchor="middle">8</text>
<text x="2030.0" y="1549.5" text-anchor="middle">10</text>
</g>
<text x="1044" y="1651" style="font-family:'Liberation Serif','Times New Roman',serif;font-weight:bold;font-size:75px" textLength="233" lengthAdjust="spacingAndGlyphs">Time(s)</text>
<text transform="translate(74,996) rotate(-90)" x="0" y="0" style="font-family:'Liberation Serif','Times New Roman',serif;font-weight:bold;font-size:75px" textLength="543" lengthAdjust="spacingAndGlyphs">Tempurature(°C)</text>
<g style="font-family:'Liberation Sans',Arial,sans-serif;font-size:65px" fill="#000">
<text x="1003" y="190" textLength="521" lengthAdjust="spacingAndGlyphs">Reproducibility of</text>
<text x="1001" y="278" textLength="467" lengthAdjust="spacingAndGlyphs">the four cooling</text>
<text x="1002" y="363" textLength="369" lengthAdjust="spacingAndGlyphs">experiments</text>
</g>
<rect x="1650.5" y="107.5" width="347" height="650.5" fill="#fff" stroke="#000" stroke-width="3"/>
<g style="font-family:'Liberation Serif','Times New Roman',serif;font-size:73px" fill="#000" stroke="#fff" stroke-width="0.8">
<text x="1847" y="177.4" textLength="134" lengthAdjust="spacingAndGlyphs">1ch1</text>
<text x="1847" y="255.6" textLength="134" lengthAdjust="spacingAndGlyphs">1ch2</text>
<text x="1847" y="337.2" textLength="134" lengthAdjust="spacingAndGlyphs">2ch1</text>
<text x="1847" y="416.0" textLength="134" lengthAdjust="spacingAndGlyphs">2ch2</text>
<text x="1847" y="497.6" textLength="134" lengthAdjust="spacingAndGlyphs">3ch1</text>
<text x="1847" y="575.4" textLength="134" lengthAdjust="spacingAndGlyphs">3ch2</text>
<text x="1847" y="657.7" textLength="134" lengthAdjust="spacingAndGlyphs">4ch1</text>
<text x="1847" y="735.5" textLength="134" lengthAdjust="spacingAndGlyphs">4ch2</text>
</g>
<line x1="1657" y1="151.7" x2="1809" y2="151.7" stroke="#000000" stroke-width="6.5"/>
<line x1="1657" y1="233.3" x2="1809" y2="233.3" stroke="#ff0000" stroke-width="6.5"/>
<line x1="1657" y1="311.9" x2="1791" y2="311.9" stroke="#00ff00" stroke-width="6.5" stroke-dasharray="32 16 10 16 10 16"/>
<line x1="1657" y1="393.5" x2="1791" y2="393.5" stroke="#0000ff" stroke-width="6.5" stroke-dasharray="32 16 10 16 10 16"/>
<line x1="1657" y1="472.3" x2="1802" y2="472.3" stroke="#8000ff" stroke-width="6.5" stroke-dasharray="6 7.5"/>
<line x1="1657" y1="554.3" x2="1802" y2="554.3" stroke="#660033" stroke-width="6.5" stroke-dasharray="6 7.5"/>
<line x1="1657" y1="632.4" x2="1809" y2="632.4" stroke="#ff80ff" stroke-width="6.5" stroke-dasharray="33 33"/>
<line x1="1657" y1="714.3" x2="1809" y2="714.3" stroke="#ef8328" stroke-width="6.5" stroke-dasharray="33 33"/>
</svg>
</body></html>
